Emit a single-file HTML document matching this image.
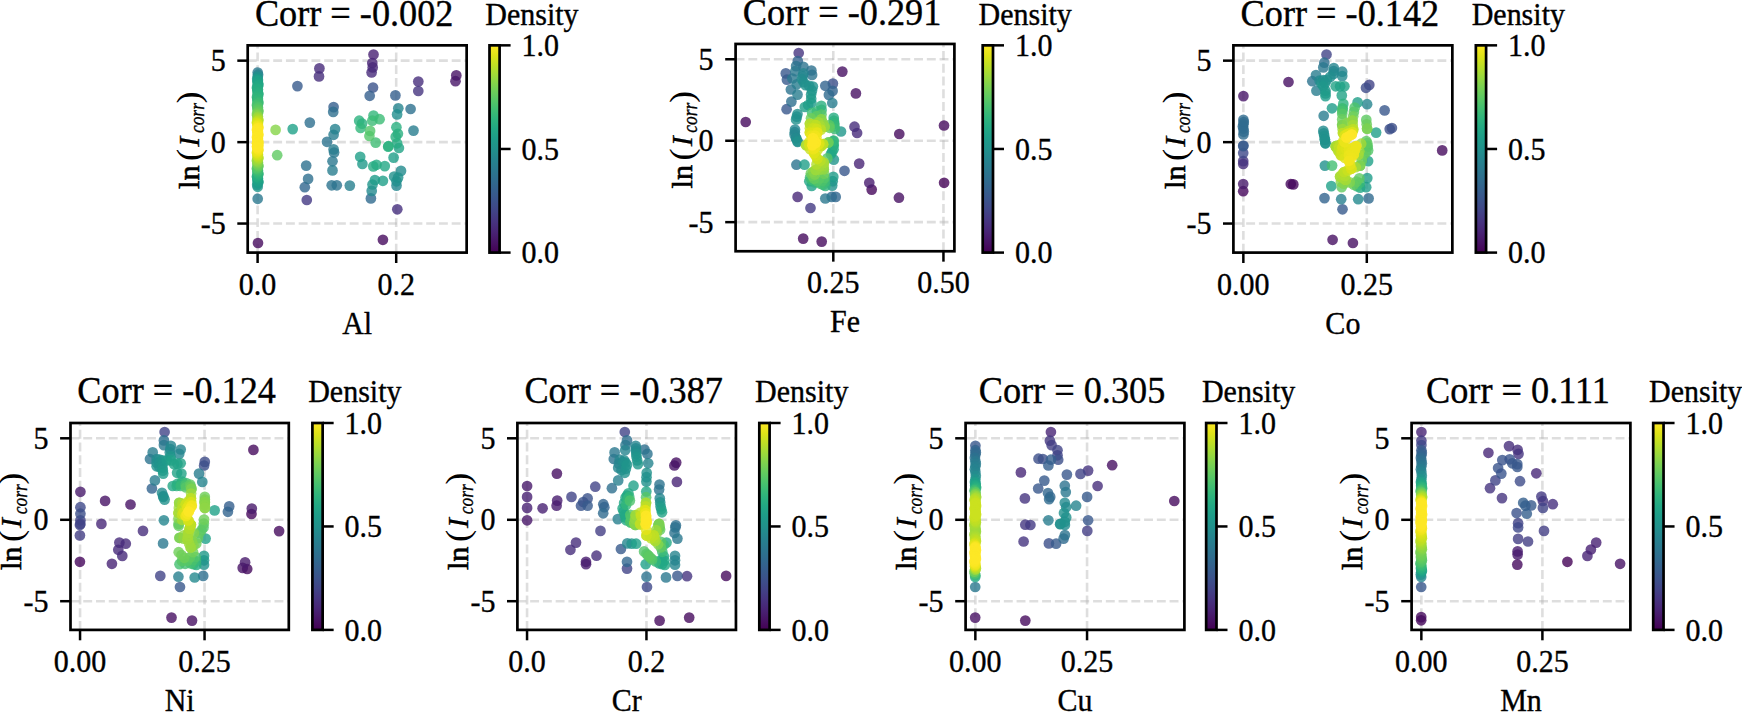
<!DOCTYPE html>
<html><head><meta charset="utf-8"><title>Correlation density scatter</title>
<style>html,body{margin:0;padding:0;background:#fff;overflow:hidden}svg{display:block}text{font-family:"Liberation Serif","Times New Roman",serif;fill:#000;stroke:#000;stroke-width:.35px}.t{font-size:36.25px}.l{font-size:30.00px}.i{font-style:italic}.pt{fill-opacity:.8}</style></head><body>
<svg width="1742" height="712" viewBox="0 0 1742 712">
<defs><linearGradient id="vir" x1="0" y1="1" x2="0" y2="0">
<stop offset="0.00" stop-color="#440154"/>
<stop offset="0.05" stop-color="#471365"/>
<stop offset="0.10" stop-color="#482475"/>
<stop offset="0.15" stop-color="#463480"/>
<stop offset="0.20" stop-color="#414487"/>
<stop offset="0.25" stop-color="#3b528b"/>
<stop offset="0.30" stop-color="#355f8d"/>
<stop offset="0.35" stop-color="#2f6c8e"/>
<stop offset="0.40" stop-color="#2a788e"/>
<stop offset="0.45" stop-color="#25848e"/>
<stop offset="0.50" stop-color="#21918c"/>
<stop offset="0.55" stop-color="#1e9c89"/>
<stop offset="0.60" stop-color="#22a884"/>
<stop offset="0.65" stop-color="#2fb47c"/>
<stop offset="0.70" stop-color="#44bf70"/>
<stop offset="0.75" stop-color="#5ec962"/>
<stop offset="0.80" stop-color="#7ad151"/>
<stop offset="0.85" stop-color="#9bd93c"/>
<stop offset="0.90" stop-color="#bddf26"/>
<stop offset="0.95" stop-color="#dfe318"/>
<stop offset="1.00" stop-color="#fde725"/>
</linearGradient></defs>
<rect width="1742" height="712" fill="#fff"/>
<g id="p0">
<clipPath id="c0"><rect x="247.70" y="45.35" width="218.95" height="207.25"/></clipPath>
<g stroke="#b0b0b0" stroke-width="2.60" stroke-opacity=".42" stroke-dasharray="8.9 3.85" fill="none" clip-path="url(#c0)">
<path d="M257.60 252.60V45.35"/>
<path d="M396.20 252.60V45.35"/>
<path d="M247.70 60.65H466.65"/>
<path d="M247.70 142.15H466.65"/>
<path d="M247.70 223.55H466.65"/>
</g>
<g class="pt" clip-path="url(#c0)">
<circle cx="258.0" cy="243.0" r="5.35" fill="#460b5e"/>
<circle cx="382.9" cy="239.8" r="5.35" fill="#460b5e"/>
<circle cx="456.3" cy="75.4" r="5.35" fill="#471365"/>
<circle cx="455.5" cy="81.2" r="5.35" fill="#481769"/>
<circle cx="373.5" cy="54.5" r="5.35" fill="#482173"/>
<circle cx="372.3" cy="63.0" r="5.35" fill="#482475"/>
<circle cx="372.7" cy="67.4" r="5.35" fill="#482878"/>
<circle cx="319.4" cy="68.4" r="5.35" fill="#472a7a"/>
<circle cx="371.6" cy="72.5" r="5.35" fill="#472a7a"/>
<circle cx="319.0" cy="76.4" r="5.35" fill="#472e7c"/>
<circle cx="418.3" cy="81.5" r="5.35" fill="#472e7c"/>
<circle cx="397.3" cy="209.3" r="5.35" fill="#46307e"/>
<circle cx="418.3" cy="91.0" r="5.35" fill="#463480"/>
<circle cx="306.8" cy="200.0" r="5.35" fill="#443a83"/>
<circle cx="373.0" cy="87.5" r="5.35" fill="#3b528b"/>
<circle cx="297.4" cy="86.1" r="5.35" fill="#375a8c"/>
<circle cx="333.6" cy="107.1" r="5.35" fill="#355f8d"/>
<circle cx="369.7" cy="95.8" r="5.35" fill="#355f8d"/>
<circle cx="395.4" cy="95.4" r="5.35" fill="#355f8d"/>
<circle cx="304.8" cy="187.2" r="5.35" fill="#31678e"/>
<circle cx="370.9" cy="198.4" r="5.35" fill="#306a8e"/>
<circle cx="309.8" cy="122.6" r="5.35" fill="#2e6f8e"/>
<circle cx="333.2" cy="111.9" r="5.35" fill="#2e6f8e"/>
<circle cx="308.1" cy="178.9" r="5.35" fill="#2e6f8e"/>
<circle cx="410.6" cy="109.0" r="5.35" fill="#2d718e"/>
<circle cx="306.2" cy="165.6" r="5.35" fill="#2d718e"/>
<circle cx="327.0" cy="141.8" r="5.35" fill="#2c738e"/>
<circle cx="331.7" cy="185.3" r="5.35" fill="#2c738e"/>
<circle cx="336.8" cy="185.3" r="5.35" fill="#2c738e"/>
<circle cx="257.7" cy="72.5" r="5.35" fill="#2a788e"/>
<circle cx="257.7" cy="198.8" r="5.35" fill="#2a788e"/>
<circle cx="334.1" cy="152.5" r="5.35" fill="#2a788e"/>
<circle cx="332.5" cy="161.3" r="5.35" fill="#2a788e"/>
<circle cx="333.6" cy="134.8" r="5.35" fill="#287d8e"/>
<circle cx="333.6" cy="149.4" r="5.35" fill="#287d8e"/>
<circle cx="413.5" cy="130.6" r="5.35" fill="#287d8e"/>
<circle cx="332.5" cy="170.4" r="5.35" fill="#287d8e"/>
<circle cx="349.8" cy="185.6" r="5.35" fill="#27808e"/>
<circle cx="335.1" cy="129.1" r="5.35" fill="#26828e"/>
<circle cx="398.3" cy="108.3" r="5.35" fill="#25848e"/>
<circle cx="258.1" cy="74.7" r="5.35" fill="#25848e"/>
<circle cx="396.5" cy="185.6" r="5.35" fill="#24868e"/>
<circle cx="371.7" cy="190.9" r="5.35" fill="#23898e"/>
<circle cx="401.0" cy="170.9" r="5.35" fill="#228b8d"/>
<circle cx="397.1" cy="114.4" r="5.35" fill="#218e8d"/>
<circle cx="396.5" cy="181.3" r="5.35" fill="#218e8d"/>
<circle cx="257.7" cy="76.9" r="5.35" fill="#21918c"/>
<circle cx="394.1" cy="176.5" r="5.35" fill="#21918c"/>
<circle cx="398.1" cy="177.6" r="5.35" fill="#21918c"/>
<circle cx="257.7" cy="186.8" r="5.35" fill="#1f958b"/>
<circle cx="372.5" cy="184.5" r="5.35" fill="#1f958b"/>
<circle cx="257.2" cy="79.0" r="5.35" fill="#1f988b"/>
<circle cx="257.2" cy="185.0" r="5.35" fill="#1f988b"/>
<circle cx="362.4" cy="164.0" r="5.35" fill="#1f9a8a"/>
<circle cx="257.7" cy="183.2" r="5.35" fill="#1e9c89"/>
<circle cx="374.9" cy="180.0" r="5.35" fill="#1e9c89"/>
<circle cx="257.9" cy="80.1" r="5.35" fill="#1e9d89"/>
<circle cx="258.4" cy="182.2" r="5.35" fill="#1f9e89"/>
<circle cx="393.6" cy="157.6" r="5.35" fill="#1f9f88"/>
<circle cx="360.2" cy="156.8" r="5.35" fill="#1f9f88"/>
<circle cx="382.9" cy="180.8" r="5.35" fill="#1f9f88"/>
<circle cx="258.1" cy="181.2" r="5.35" fill="#1fa088"/>
<circle cx="257.7" cy="81.2" r="5.35" fill="#1fa188"/>
<circle cx="292.7" cy="129.1" r="5.35" fill="#1fa188"/>
<circle cx="257.5" cy="180.2" r="5.35" fill="#1fa187"/>
<circle cx="257.5" cy="82.5" r="5.35" fill="#1fa287"/>
<circle cx="257.7" cy="179.2" r="5.35" fill="#20a386"/>
<circle cx="398.9" cy="148.0" r="5.35" fill="#20a386"/>
<circle cx="258.1" cy="83.8" r="5.35" fill="#20a486"/>
<circle cx="258.4" cy="85.1" r="5.35" fill="#21a685"/>
<circle cx="257.9" cy="178.2" r="5.35" fill="#21a685"/>
<circle cx="257.7" cy="86.3" r="5.35" fill="#22a884"/>
<circle cx="384.8" cy="166.1" r="5.35" fill="#22a884"/>
<circle cx="257.2" cy="177.2" r="5.35" fill="#23a983"/>
<circle cx="257.0" cy="87.4" r="5.35" fill="#23a983"/>
<circle cx="397.1" cy="143.3" r="5.35" fill="#25ab82"/>
<circle cx="373.3" cy="166.4" r="5.35" fill="#25ab82"/>
<circle cx="376.5" cy="164.8" r="5.35" fill="#25ab82"/>
<circle cx="257.2" cy="88.5" r="5.35" fill="#25ab82"/>
<circle cx="257.9" cy="89.6" r="5.35" fill="#25ac82"/>
<circle cx="257.0" cy="176.2" r="5.35" fill="#26ad81"/>
<circle cx="257.7" cy="90.7" r="5.35" fill="#26ad81"/>
<circle cx="257.5" cy="92.0" r="5.35" fill="#28ae80"/>
<circle cx="396.4" cy="127.2" r="5.35" fill="#29af7f"/>
<circle cx="397.9" cy="133.8" r="5.35" fill="#29af7f"/>
<circle cx="395.7" cy="136.7" r="5.35" fill="#29af7f"/>
<circle cx="388.4" cy="146.2" r="5.35" fill="#29af7f"/>
<circle cx="257.7" cy="175.2" r="5.35" fill="#29af7f"/>
<circle cx="258.1" cy="93.3" r="5.35" fill="#29af7f"/>
<circle cx="258.4" cy="94.6" r="5.35" fill="#2ab07f"/>
<circle cx="257.7" cy="95.8" r="5.35" fill="#2cb17e"/>
<circle cx="359.2" cy="120.7" r="5.35" fill="#2cb17e"/>
<circle cx="362.1" cy="123.6" r="5.35" fill="#2cb17e"/>
<circle cx="388.2" cy="146.7" r="5.35" fill="#2cb17e"/>
<circle cx="258.4" cy="174.2" r="5.35" fill="#2db27d"/>
<circle cx="257.0" cy="96.9" r="5.35" fill="#2eb37c"/>
<circle cx="257.2" cy="98.0" r="5.35" fill="#2fb47c"/>
<circle cx="258.1" cy="173.2" r="5.35" fill="#31b57b"/>
<circle cx="257.9" cy="99.1" r="5.35" fill="#31b57b"/>
<circle cx="257.7" cy="100.2" r="5.35" fill="#32b67a"/>
<circle cx="373.5" cy="115.6" r="5.35" fill="#32b67a"/>
<circle cx="360.6" cy="128.0" r="5.35" fill="#32b67a"/>
<circle cx="257.5" cy="101.1" r="5.35" fill="#35b779"/>
<circle cx="257.5" cy="172.2" r="5.35" fill="#35b779"/>
<circle cx="258.1" cy="102.0" r="5.35" fill="#38b977"/>
<circle cx="379.6" cy="119.2" r="5.35" fill="#3bbb75"/>
<circle cx="372.3" cy="120.7" r="5.35" fill="#3bbb75"/>
<circle cx="257.7" cy="171.2" r="5.35" fill="#3bbb75"/>
<circle cx="258.4" cy="103.0" r="5.35" fill="#3bbb75"/>
<circle cx="257.7" cy="103.9" r="5.35" fill="#3fbc73"/>
<circle cx="375.7" cy="142.6" r="5.35" fill="#3fbc73"/>
<circle cx="257.9" cy="170.2" r="5.35" fill="#40bd72"/>
<circle cx="257.0" cy="105.0" r="5.35" fill="#44bf70"/>
<circle cx="257.2" cy="106.1" r="5.35" fill="#48c16e"/>
<circle cx="257.2" cy="169.2" r="5.35" fill="#48c16e"/>
<circle cx="257.9" cy="107.2" r="5.35" fill="#4ec36b"/>
<circle cx="257.0" cy="168.2" r="5.35" fill="#50c46a"/>
<circle cx="257.7" cy="108.3" r="5.35" fill="#52c569"/>
<circle cx="370.1" cy="130.9" r="5.35" fill="#52c569"/>
<circle cx="369.4" cy="136.0" r="5.35" fill="#52c569"/>
<circle cx="257.7" cy="167.2" r="5.35" fill="#58c765"/>
<circle cx="257.5" cy="109.3" r="5.35" fill="#58c765"/>
<circle cx="277.2" cy="155.2" r="5.35" fill="#5ec962"/>
<circle cx="258.1" cy="110.4" r="5.35" fill="#5ec962"/>
<circle cx="258.4" cy="166.2" r="5.35" fill="#60ca60"/>
<circle cx="258.4" cy="111.5" r="5.35" fill="#63cb5f"/>
<circle cx="257.7" cy="112.6" r="5.35" fill="#69cd5b"/>
<circle cx="258.1" cy="165.2" r="5.35" fill="#69cd5b"/>
<circle cx="257.5" cy="164.2" r="5.35" fill="#70cf57"/>
<circle cx="257.0" cy="113.9" r="5.35" fill="#75d054"/>
<circle cx="257.7" cy="163.2" r="5.35" fill="#7ad151"/>
<circle cx="257.2" cy="115.2" r="5.35" fill="#81d34d"/>
<circle cx="257.9" cy="162.2" r="5.35" fill="#84d44b"/>
<circle cx="275.6" cy="129.9" r="5.35" fill="#86d549"/>
<circle cx="257.2" cy="161.2" r="5.35" fill="#8ed645"/>
<circle cx="257.9" cy="116.5" r="5.35" fill="#8ed645"/>
<circle cx="257.0" cy="160.2" r="5.35" fill="#98d83e"/>
<circle cx="257.7" cy="117.7" r="5.35" fill="#9bd93c"/>
<circle cx="257.7" cy="159.2" r="5.35" fill="#a2da37"/>
<circle cx="257.5" cy="118.7" r="5.35" fill="#a2da37"/>
<circle cx="258.1" cy="119.6" r="5.35" fill="#addc30"/>
<circle cx="258.4" cy="158.2" r="5.35" fill="#addc30"/>
<circle cx="258.4" cy="120.5" r="5.35" fill="#b5de2b"/>
<circle cx="258.1" cy="157.2" r="5.35" fill="#b5de2b"/>
<circle cx="257.7" cy="121.4" r="5.35" fill="#bddf26"/>
<circle cx="257.5" cy="156.2" r="5.35" fill="#c0df25"/>
<circle cx="257.0" cy="122.3" r="5.35" fill="#c8e020"/>
<circle cx="257.7" cy="155.2" r="5.35" fill="#cae11f"/>
<circle cx="257.2" cy="123.2" r="5.35" fill="#d2e21b"/>
<circle cx="257.9" cy="154.2" r="5.35" fill="#d2e21b"/>
<circle cx="257.9" cy="124.1" r="5.35" fill="#dae319"/>
<circle cx="257.2" cy="153.2" r="5.35" fill="#dae319"/>
<circle cx="257.0" cy="152.2" r="5.35" fill="#e5e419"/>
<circle cx="257.7" cy="125.0" r="5.35" fill="#e5e419"/>
<circle cx="257.7" cy="151.2" r="5.35" fill="#ece51b"/>
<circle cx="257.5" cy="126.0" r="5.35" fill="#ece51b"/>
<circle cx="258.4" cy="150.2" r="5.35" fill="#f1e51d"/>
<circle cx="258.1" cy="126.9" r="5.35" fill="#f1e51d"/>
<circle cx="258.1" cy="149.2" r="5.35" fill="#f6e620"/>
<circle cx="258.4" cy="127.8" r="5.35" fill="#f8e621"/>
<circle cx="257.5" cy="148.2" r="5.35" fill="#fbe723"/>
<circle cx="257.7" cy="128.7" r="5.35" fill="#fde725"/>
<circle cx="257.7" cy="132.3" r="5.35" fill="#fde725"/>
<circle cx="257.7" cy="136.0" r="5.35" fill="#fde725"/>
<circle cx="257.7" cy="139.6" r="5.35" fill="#fde725"/>
<circle cx="257.7" cy="143.3" r="5.35" fill="#fde725"/>
<circle cx="257.7" cy="146.2" r="5.35" fill="#fde725"/>
<circle cx="257.7" cy="143.2" r="5.35" fill="#fde725"/>
<circle cx="257.7" cy="147.2" r="5.35" fill="#fde725"/>
<circle cx="257.2" cy="130.5" r="5.35" fill="#fde725"/>
<circle cx="258.1" cy="134.2" r="5.35" fill="#fde725"/>
<circle cx="257.2" cy="137.8" r="5.35" fill="#fde725"/>
<circle cx="258.1" cy="141.4" r="5.35" fill="#fde725"/>
<circle cx="257.2" cy="143.2" r="5.35" fill="#fde725"/>
<circle cx="258.1" cy="144.8" r="5.35" fill="#fde725"/>
<circle cx="257.2" cy="146.7" r="5.35" fill="#fde725"/>
<circle cx="257.0" cy="129.6" r="5.35" fill="#fde725"/>
<circle cx="257.9" cy="131.4" r="5.35" fill="#fde725"/>
<circle cx="257.5" cy="133.3" r="5.35" fill="#fde725"/>
<circle cx="258.4" cy="135.1" r="5.35" fill="#fde725"/>
<circle cx="257.0" cy="136.9" r="5.35" fill="#fde725"/>
<circle cx="257.9" cy="138.7" r="5.35" fill="#fde725"/>
<circle cx="257.5" cy="140.5" r="5.35" fill="#fde725"/>
<circle cx="258.4" cy="142.3" r="5.35" fill="#fde725"/>
<circle cx="257.0" cy="143.2" r="5.35" fill="#fde725"/>
<circle cx="257.9" cy="143.3" r="5.35" fill="#fde725"/>
<circle cx="257.5" cy="144.0" r="5.35" fill="#fde725"/>
<circle cx="258.4" cy="145.5" r="5.35" fill="#fde725"/>
<circle cx="257.0" cy="146.5" r="5.35" fill="#fde725"/>
<circle cx="257.9" cy="147.0" r="5.35" fill="#fde725"/>
</g>
<g stroke="#000" stroke-width="2.50" fill="none">
<path d="M257.60 252.60v10.40"/>
<path d="M396.20 252.60v10.40"/>
<path d="M247.70 60.65h-10.40"/>
<path d="M247.70 142.15h-10.40"/>
<path d="M247.70 223.55h-10.40"/>
</g>
<rect x="247.70" y="45.35" width="218.95" height="207.25" fill="none" stroke="#000" stroke-width="2.70"/>
<text class="l" transform="translate(257.60 294.50) scale(1 1.022)" text-anchor="middle">0.0</text>
<text class="l" transform="translate(396.20 294.50) scale(1 1.022)" text-anchor="middle">0.2</text>
<text class="l" transform="translate(225.70 71.25) scale(1 1.022)" text-anchor="end">5</text>
<text class="l" transform="translate(225.70 152.75) scale(1 1.022)" text-anchor="end">0</text>
<text class="l" transform="translate(225.70 234.15) scale(1 1.022)" text-anchor="end">-5</text>
<text class="l" transform="translate(357.17 333.50) scale(1 1.022)" text-anchor="middle">Al</text>
<text class="t" transform="translate(354.17 25.75) scale(1 1.022)" text-anchor="middle">Corr = -0.002</text>
<g class="l" transform="translate(199.00 188.50) rotate(-90)"><text x="-0.4" y="0" font-size="30.4" style="stroke-width:.6px">ln</text><text transform="translate(27.6 0.8) scale(1.08 1)" font-size="33.5" style="stroke-width:0">(</text><text x="41.8" y="0" class="i">I</text><text transform="translate(55.4 5.2) scale(0.80 1)" class="i" font-size="21.8">corr</text><text transform="translate(85.0 0.8) scale(1.08 1)" font-size="33.5" style="stroke-width:0">)</text></g>
<rect x="489.50" y="45.35" width="10.10" height="207.25" fill="url(#vir)" stroke="#000" stroke-width="2.70"/>
<g stroke="#000" stroke-width="2.50" fill="none">
<path d="M499.60 45.35h11.00"/>
<path d="M499.60 148.97h11.00"/>
<path d="M499.60 252.60h11.00"/>
</g>
<text class="l" transform="translate(521.50 56.05) scale(1 1.022)">1.0</text>
<text class="l" transform="translate(521.50 159.67) scale(1 1.022)">0.5</text>
<text class="l" transform="translate(521.50 263.30) scale(1 1.022)">0.0</text>
<text class="l" transform="translate(485.30 24.75) scale(1 1.022)">Density</text>
</g>
<g id="p1">
<clipPath id="c1"><rect x="735.60" y="43.95" width="218.80" height="207.30"/></clipPath>
<g stroke="#b0b0b0" stroke-width="2.60" stroke-opacity=".42" stroke-dasharray="8.9 3.85" fill="none" clip-path="url(#c1)">
<path d="M833.30 251.25V43.95"/>
<path d="M943.45 251.25V43.95"/>
<path d="M735.60 59.25H954.40"/>
<path d="M735.60 140.75H954.40"/>
<path d="M735.60 222.15H954.40"/>
</g>
<g class="pt" clip-path="url(#c1)">
<circle cx="944.1" cy="182.8" r="5.35" fill="#450457"/>
<circle cx="871.7" cy="189.6" r="5.35" fill="#46085c"/>
<circle cx="745.7" cy="122.0" r="5.35" fill="#460b5e"/>
<circle cx="899.3" cy="134.0" r="5.35" fill="#460b5e"/>
<circle cx="944.0" cy="125.5" r="5.35" fill="#460b5e"/>
<circle cx="803.2" cy="238.6" r="5.35" fill="#460b5e"/>
<circle cx="821.7" cy="241.6" r="5.35" fill="#460b5e"/>
<circle cx="842.3" cy="71.6" r="5.35" fill="#471063"/>
<circle cx="855.9" cy="93.4" r="5.35" fill="#471063"/>
<circle cx="898.9" cy="197.7" r="5.35" fill="#471063"/>
<circle cx="869.3" cy="182.8" r="5.35" fill="#481d6f"/>
<circle cx="859.2" cy="163.6" r="5.35" fill="#482475"/>
<circle cx="797.6" cy="196.9" r="5.35" fill="#482878"/>
<circle cx="857.1" cy="133.0" r="5.35" fill="#472a7a"/>
<circle cx="854.5" cy="126.7" r="5.35" fill="#472e7c"/>
<circle cx="798.7" cy="53.0" r="5.35" fill="#463480"/>
<circle cx="810.5" cy="208.0" r="5.35" fill="#443a83"/>
<circle cx="832.9" cy="83.6" r="5.35" fill="#3c4f8a"/>
<circle cx="785.8" cy="73.4" r="5.35" fill="#38588c"/>
<circle cx="786.6" cy="109.2" r="5.35" fill="#38588c"/>
<circle cx="844.5" cy="170.8" r="5.35" fill="#38588c"/>
<circle cx="786.9" cy="79.7" r="5.35" fill="#375a8c"/>
<circle cx="797.8" cy="61.0" r="5.35" fill="#32648e"/>
<circle cx="825.3" cy="85.8" r="5.35" fill="#32648e"/>
<circle cx="832.6" cy="90.9" r="5.35" fill="#32648e"/>
<circle cx="835.7" cy="196.9" r="5.35" fill="#31678e"/>
<circle cx="828.9" cy="94.9" r="5.35" fill="#306a8e"/>
<circle cx="831.7" cy="196.9" r="5.35" fill="#2f6c8e"/>
<circle cx="791.4" cy="101.6" r="5.35" fill="#2e6f8e"/>
<circle cx="811.4" cy="70.5" r="5.35" fill="#2d718e"/>
<circle cx="796.1" cy="66.1" r="5.35" fill="#2c738e"/>
<circle cx="803.4" cy="66.8" r="5.35" fill="#2c738e"/>
<circle cx="812.1" cy="74.9" r="5.35" fill="#2c738e"/>
<circle cx="790.9" cy="89.5" r="5.35" fill="#2c738e"/>
<circle cx="796.4" cy="164.7" r="5.35" fill="#2c738e"/>
<circle cx="795.3" cy="71.2" r="5.35" fill="#2a788e"/>
<circle cx="792.4" cy="78.5" r="5.35" fill="#2a788e"/>
<circle cx="825.3" cy="198.5" r="5.35" fill="#2a788e"/>
<circle cx="796.8" cy="84.3" r="5.35" fill="#287d8e"/>
<circle cx="797.5" cy="94.6" r="5.35" fill="#287d8e"/>
<circle cx="832.3" cy="103.0" r="5.35" fill="#287d8e"/>
<circle cx="803.4" cy="73.4" r="5.35" fill="#25848e"/>
<circle cx="794.6" cy="134.7" r="5.35" fill="#25848e"/>
<circle cx="794.8" cy="132.2" r="5.35" fill="#25858e"/>
<circle cx="802.6" cy="76.3" r="5.35" fill="#24868e"/>
<circle cx="795.0" cy="129.6" r="5.35" fill="#24868e"/>
<circle cx="796.1" cy="138.4" r="5.35" fill="#23888e"/>
<circle cx="801.9" cy="79.2" r="5.35" fill="#23898e"/>
<circle cx="796.1" cy="138.0" r="5.35" fill="#238a8d"/>
<circle cx="797.6" cy="142.0" r="5.35" fill="#228b8d"/>
<circle cx="803.7" cy="82.2" r="5.35" fill="#228d8d"/>
<circle cx="805.6" cy="85.1" r="5.35" fill="#21918c"/>
<circle cx="812.9" cy="86.5" r="5.35" fill="#21918c"/>
<circle cx="797.5" cy="114.0" r="5.35" fill="#21918c"/>
<circle cx="796.1" cy="119.4" r="5.35" fill="#21918c"/>
<circle cx="797.5" cy="141.3" r="5.35" fill="#21918c"/>
<circle cx="832.2" cy="185.6" r="5.35" fill="#21918c"/>
<circle cx="809.2" cy="85.8" r="5.35" fill="#21918c"/>
<circle cx="796.8" cy="116.7" r="5.35" fill="#21918c"/>
<circle cx="812.0" cy="90.6" r="5.35" fill="#20938c"/>
<circle cx="833.8" cy="159.6" r="5.35" fill="#1f958b"/>
<circle cx="832.7" cy="181.2" r="5.35" fill="#1f968b"/>
<circle cx="811.1" cy="94.6" r="5.35" fill="#1f978b"/>
<circle cx="841.0" cy="131.5" r="5.35" fill="#1f978b"/>
<circle cx="811.2" cy="98.8" r="5.35" fill="#1f9a8a"/>
<circle cx="811.4" cy="103.0" r="5.35" fill="#1e9c89"/>
<circle cx="833.3" cy="176.9" r="5.35" fill="#1e9c89"/>
<circle cx="808.1" cy="105.0" r="5.35" fill="#1f9e89"/>
<circle cx="804.8" cy="107.0" r="5.35" fill="#1f9f88"/>
<circle cx="804.5" cy="164.7" r="5.35" fill="#1f9f88"/>
<circle cx="811.7" cy="186.0" r="5.35" fill="#1fa188"/>
<circle cx="833.6" cy="149.2" r="5.35" fill="#22a884"/>
<circle cx="830.9" cy="154.0" r="5.35" fill="#22a884"/>
<circle cx="809.3" cy="181.2" r="5.35" fill="#22a884"/>
<circle cx="832.2" cy="151.6" r="5.35" fill="#22a884"/>
<circle cx="833.4" cy="145.2" r="5.35" fill="#25ab82"/>
<circle cx="833.7" cy="117.9" r="5.35" fill="#26ad81"/>
<circle cx="833.3" cy="141.2" r="5.35" fill="#26ad81"/>
<circle cx="821.3" cy="105.8" r="5.35" fill="#29af7f"/>
<circle cx="833.7" cy="144.9" r="5.35" fill="#29af7f"/>
<circle cx="833.9" cy="120.9" r="5.35" fill="#2cb17e"/>
<circle cx="814.9" cy="182.4" r="5.35" fill="#2fb47c"/>
<circle cx="821.6" cy="109.9" r="5.35" fill="#2fb47c"/>
<circle cx="825.3" cy="186.0" r="5.35" fill="#2fb47c"/>
<circle cx="834.2" cy="123.4" r="5.35" fill="#2fb47c"/>
<circle cx="834.0" cy="123.8" r="5.35" fill="#32b67a"/>
<circle cx="833.7" cy="140.6" r="5.35" fill="#32b67a"/>
<circle cx="816.9" cy="111.4" r="5.35" fill="#35b779"/>
<circle cx="834.4" cy="126.3" r="5.35" fill="#37b878"/>
<circle cx="822.9" cy="184.8" r="5.35" fill="#38b977"/>
<circle cx="811.7" cy="180.0" r="5.35" fill="#3bbb75"/>
<circle cx="812.1" cy="112.8" r="5.35" fill="#3bbb75"/>
<circle cx="834.8" cy="128.9" r="5.35" fill="#3bbb75"/>
<circle cx="810.1" cy="177.2" r="5.35" fill="#3fbc73"/>
<circle cx="824.9" cy="182.0" r="5.35" fill="#3fbc73"/>
<circle cx="820.5" cy="183.6" r="5.35" fill="#44bf70"/>
<circle cx="822.5" cy="180.8" r="5.35" fill="#4cc26c"/>
<circle cx="824.5" cy="178.0" r="5.35" fill="#52c569"/>
<circle cx="817.3" cy="181.2" r="5.35" fill="#52c569"/>
<circle cx="821.5" cy="114.6" r="5.35" fill="#56c667"/>
<circle cx="827.3" cy="158.4" r="5.35" fill="#56c667"/>
<circle cx="819.3" cy="178.4" r="5.35" fill="#5ac864"/>
<circle cx="816.7" cy="116.1" r="5.35" fill="#5ec962"/>
<circle cx="829.3" cy="125.2" r="5.35" fill="#5ec962"/>
<circle cx="814.1" cy="178.8" r="5.35" fill="#63cb5f"/>
<circle cx="829.6" cy="127.8" r="5.35" fill="#63cb5f"/>
<circle cx="828.2" cy="142.7" r="5.35" fill="#63cb5f"/>
<circle cx="812.5" cy="176.0" r="5.35" fill="#69cd5b"/>
<circle cx="810.9" cy="173.2" r="5.35" fill="#6ece58"/>
<circle cx="811.0" cy="118.3" r="5.35" fill="#6ece58"/>
<circle cx="828.4" cy="142.4" r="5.35" fill="#6ece58"/>
<circle cx="824.1" cy="173.6" r="5.35" fill="#6ece58"/>
<circle cx="814.9" cy="174.4" r="5.35" fill="#7fd34e"/>
<circle cx="813.3" cy="171.6" r="5.35" fill="#84d44b"/>
<circle cx="821.3" cy="119.4" r="5.35" fill="#86d549"/>
<circle cx="821.3" cy="119.4" r="5.35" fill="#86d549"/>
<circle cx="823.7" cy="169.2" r="5.35" fill="#8ed645"/>
<circle cx="823.7" cy="169.2" r="5.35" fill="#8ed645"/>
<circle cx="822.9" cy="123.0" r="5.35" fill="#8ed645"/>
<circle cx="824.5" cy="126.7" r="5.35" fill="#95d840"/>
<circle cx="824.5" cy="126.7" r="5.35" fill="#95d840"/>
<circle cx="819.7" cy="169.6" r="5.35" fill="#95d840"/>
<circle cx="815.7" cy="170.0" r="5.35" fill="#9bd93c"/>
<circle cx="815.7" cy="170.0" r="5.35" fill="#9bd93c"/>
<circle cx="823.7" cy="166.0" r="5.35" fill="#9bd93c"/>
<circle cx="818.5" cy="122.3" r="5.35" fill="#a2da37"/>
<circle cx="819.7" cy="166.4" r="5.35" fill="#a2da37"/>
<circle cx="823.7" cy="162.8" r="5.35" fill="#a8db34"/>
<circle cx="823.7" cy="162.8" r="5.35" fill="#a8db34"/>
<circle cx="820.2" cy="126.0" r="5.35" fill="#a8db34"/>
<circle cx="809.9" cy="123.8" r="5.35" fill="#b0dd2f"/>
<circle cx="806.1" cy="145.2" r="5.35" fill="#b0dd2f"/>
<circle cx="809.9" cy="123.8" r="5.35" fill="#b0dd2f"/>
<circle cx="806.1" cy="145.2" r="5.35" fill="#b0dd2f"/>
<circle cx="816.5" cy="164.4" r="5.35" fill="#b2dd2d"/>
<circle cx="812.9" cy="124.5" r="5.35" fill="#b5de2b"/>
<circle cx="820.5" cy="160.8" r="5.35" fill="#bade28"/>
<circle cx="820.9" cy="129.6" r="5.35" fill="#bddf26"/>
<circle cx="815.8" cy="125.2" r="5.35" fill="#bddf26"/>
<circle cx="823.1" cy="144.2" r="5.35" fill="#bddf26"/>
<circle cx="821.3" cy="146.0" r="5.35" fill="#bddf26"/>
<circle cx="815.8" cy="125.2" r="5.35" fill="#bddf26"/>
<circle cx="823.1" cy="144.2" r="5.35" fill="#bddf26"/>
<circle cx="821.3" cy="146.0" r="5.35" fill="#bddf26"/>
<circle cx="809.9" cy="128.2" r="5.35" fill="#c2df23"/>
<circle cx="810.1" cy="149.2" r="5.35" fill="#c8e020"/>
<circle cx="813.6" cy="128.2" r="5.35" fill="#cae11f"/>
<circle cx="812.9" cy="128.9" r="5.35" fill="#cae11f"/>
<circle cx="817.3" cy="158.8" r="5.35" fill="#cae11f"/>
<circle cx="817.3" cy="158.8" r="5.35" fill="#cae11f"/>
<circle cx="817.7" cy="149.6" r="5.35" fill="#cde11d"/>
<circle cx="816.5" cy="128.9" r="5.35" fill="#d2e21b"/>
<circle cx="815.7" cy="156.0" r="5.35" fill="#d5e21a"/>
<circle cx="809.9" cy="132.5" r="5.35" fill="#d8e219"/>
<circle cx="809.9" cy="132.5" r="5.35" fill="#d8e219"/>
<circle cx="809.5" cy="141.8" r="5.35" fill="#d8e219"/>
<circle cx="810.9" cy="144.0" r="5.35" fill="#d8e219"/>
<circle cx="809.3" cy="145.2" r="5.35" fill="#d8e219"/>
<circle cx="814.1" cy="153.2" r="5.35" fill="#dfe318"/>
<circle cx="814.1" cy="153.2" r="5.35" fill="#dfe318"/>
<circle cx="813.6" cy="132.5" r="5.35" fill="#dfe318"/>
<circle cx="817.1" cy="142.2" r="5.35" fill="#dfe318"/>
<circle cx="819.4" cy="143.5" r="5.35" fill="#dfe318"/>
<circle cx="818.5" cy="144.4" r="5.35" fill="#dfe318"/>
<circle cx="817.8" cy="144.7" r="5.35" fill="#dfe318"/>
<circle cx="816.9" cy="145.6" r="5.35" fill="#dfe318"/>
<circle cx="817.2" cy="132.5" r="5.35" fill="#e5e419"/>
<circle cx="817.2" cy="132.5" r="5.35" fill="#e5e419"/>
<circle cx="811.4" cy="135.5" r="5.35" fill="#ece51b"/>
<circle cx="814.9" cy="148.0" r="5.35" fill="#efe51c"/>
<circle cx="813.3" cy="149.2" r="5.35" fill="#efe51c"/>
<circle cx="815.0" cy="135.5" r="5.35" fill="#f1e51d"/>
<circle cx="816.5" cy="137.6" r="5.35" fill="#f1e51d"/>
<circle cx="812.9" cy="138.4" r="5.35" fill="#fde725"/>
<circle cx="815.8" cy="142.8" r="5.35" fill="#fde725"/>
<circle cx="812.5" cy="145.2" r="5.35" fill="#fde725"/>
<circle cx="812.9" cy="138.4" r="5.35" fill="#fde725"/>
<circle cx="815.8" cy="142.8" r="5.35" fill="#fde725"/>
<circle cx="812.5" cy="145.2" r="5.35" fill="#fde725"/>
<circle cx="814.3" cy="140.6" r="5.35" fill="#fde725"/>
<circle cx="812.7" cy="141.8" r="5.35" fill="#fde725"/>
</g>
<g stroke="#000" stroke-width="2.50" fill="none">
<path d="M833.30 251.25v10.40"/>
<path d="M943.45 251.25v10.40"/>
<path d="M735.60 59.25h-10.40"/>
<path d="M735.60 140.75h-10.40"/>
<path d="M735.60 222.15h-10.40"/>
</g>
<rect x="735.60" y="43.95" width="218.80" height="207.30" fill="none" stroke="#000" stroke-width="2.70"/>
<text class="l" transform="translate(833.30 293.15) scale(1 1.022)" text-anchor="middle">0.25</text>
<text class="l" transform="translate(943.45 293.15) scale(1 1.022)" text-anchor="middle">0.50</text>
<text class="l" transform="translate(713.60 69.85) scale(1 1.022)" text-anchor="end">5</text>
<text class="l" transform="translate(713.60 151.35) scale(1 1.022)" text-anchor="end">0</text>
<text class="l" transform="translate(713.60 232.75) scale(1 1.022)" text-anchor="end">-5</text>
<text class="l" transform="translate(845.00 332.15) scale(1 1.022)" text-anchor="middle">Fe</text>
<text class="t" transform="translate(842.00 25.40) scale(1 1.022)" text-anchor="middle">Corr = -0.291</text>
<g class="l" transform="translate(691.80 188.10) rotate(-90)"><text x="-0.4" y="0" font-size="30.4" style="stroke-width:.6px">ln</text><text transform="translate(27.6 0.8) scale(1.08 1)" font-size="33.5" style="stroke-width:0">(</text><text x="41.8" y="0" class="i">I</text><text transform="translate(55.4 5.2) scale(0.80 1)" class="i" font-size="21.8">corr</text><text transform="translate(85.0 0.8) scale(1.08 1)" font-size="33.5" style="stroke-width:0">)</text></g>
<rect x="982.70" y="45.35" width="10.30" height="207.25" fill="url(#vir)" stroke="#000" stroke-width="2.70"/>
<g stroke="#000" stroke-width="2.50" fill="none">
<path d="M993.00 45.35h11.00"/>
<path d="M993.00 148.97h11.00"/>
<path d="M993.00 252.60h11.00"/>
</g>
<text class="l" transform="translate(1014.90 56.05) scale(1 1.022)">1.0</text>
<text class="l" transform="translate(1014.90 159.67) scale(1 1.022)">0.5</text>
<text class="l" transform="translate(1014.90 263.30) scale(1 1.022)">0.0</text>
<text class="l" transform="translate(978.50 24.75) scale(1 1.022)">Density</text>
</g>
<g id="p2">
<clipPath id="c2"><rect x="1233.40" y="45.35" width="218.95" height="207.25"/></clipPath>
<g stroke="#b0b0b0" stroke-width="2.60" stroke-opacity=".42" stroke-dasharray="8.9 3.85" fill="none" clip-path="url(#c2)">
<path d="M1243.35 252.60V45.35"/>
<path d="M1366.80 252.60V45.35"/>
<path d="M1233.40 60.65H1452.35"/>
<path d="M1233.40 142.15H1452.35"/>
<path d="M1233.40 223.55H1452.35"/>
</g>
<g class="pt" clip-path="url(#c2)">
<circle cx="1243.2" cy="191.2" r="5.35" fill="#46085c"/>
<circle cx="1290.8" cy="184.0" r="5.35" fill="#46085c"/>
<circle cx="1293.3" cy="184.4" r="5.35" fill="#46085c"/>
<circle cx="1442.2" cy="150.4" r="5.35" fill="#460b5e"/>
<circle cx="1288.5" cy="82.0" r="5.35" fill="#471063"/>
<circle cx="1332.6" cy="239.8" r="5.35" fill="#471063"/>
<circle cx="1352.9" cy="243.0" r="5.35" fill="#471063"/>
<circle cx="1243.4" cy="96.1" r="5.35" fill="#481769"/>
<circle cx="1243.2" cy="184.0" r="5.35" fill="#481a6c"/>
<circle cx="1243.2" cy="164.0" r="5.35" fill="#472e7c"/>
<circle cx="1243.2" cy="161.1" r="5.35" fill="#463480"/>
<circle cx="1326.5" cy="54.5" r="5.35" fill="#414487"/>
<circle cx="1369.3" cy="84.9" r="5.35" fill="#414487"/>
<circle cx="1243.2" cy="153.1" r="5.35" fill="#3e4989"/>
<circle cx="1366.0" cy="87.8" r="5.35" fill="#3e4c8a"/>
<circle cx="1391.9" cy="128.0" r="5.35" fill="#3c4f8a"/>
<circle cx="1389.7" cy="129.1" r="5.35" fill="#3c4f8a"/>
<circle cx="1384.6" cy="110.4" r="5.35" fill="#38588c"/>
<circle cx="1243.2" cy="146.1" r="5.35" fill="#38588c"/>
<circle cx="1243.4" cy="145.5" r="5.35" fill="#375a8c"/>
<circle cx="1342.5" cy="209.3" r="5.35" fill="#375a8c"/>
<circle cx="1324.5" cy="198.1" r="5.35" fill="#32648e"/>
<circle cx="1368.6" cy="198.4" r="5.35" fill="#306a8e"/>
<circle cx="1243.4" cy="119.9" r="5.35" fill="#2f6c8e"/>
<circle cx="1243.4" cy="124.3" r="5.35" fill="#2f6c8e"/>
<circle cx="1243.4" cy="128.7" r="5.35" fill="#2f6c8e"/>
<circle cx="1243.4" cy="134.5" r="5.35" fill="#2f6c8e"/>
<circle cx="1243.8" cy="122.1" r="5.35" fill="#2f6c8e"/>
<circle cx="1242.9" cy="126.5" r="5.35" fill="#2f6c8e"/>
<circle cx="1243.8" cy="131.6" r="5.35" fill="#2f6c8e"/>
<circle cx="1324.3" cy="62.7" r="5.35" fill="#2e6f8e"/>
<circle cx="1312.3" cy="81.2" r="5.35" fill="#2c738e"/>
<circle cx="1323.3" cy="67.4" r="5.35" fill="#2a788e"/>
<circle cx="1316.0" cy="75.1" r="5.35" fill="#287d8e"/>
<circle cx="1316.4" cy="90.7" r="5.35" fill="#287d8e"/>
<circle cx="1323.7" cy="115.8" r="5.35" fill="#287d8e"/>
<circle cx="1341.2" cy="199.2" r="5.35" fill="#27808e"/>
<circle cx="1333.8" cy="68.1" r="5.35" fill="#25848e"/>
<circle cx="1342.2" cy="71.7" r="5.35" fill="#25848e"/>
<circle cx="1367.1" cy="104.2" r="5.35" fill="#25848e"/>
<circle cx="1333.6" cy="71.0" r="5.35" fill="#24868e"/>
<circle cx="1342.2" cy="76.1" r="5.35" fill="#23898e"/>
<circle cx="1333.5" cy="73.9" r="5.35" fill="#23898e"/>
<circle cx="1319.6" cy="80.5" r="5.35" fill="#23898e"/>
<circle cx="1358.2" cy="199.2" r="5.35" fill="#23898e"/>
<circle cx="1323.3" cy="130.9" r="5.35" fill="#228b8d"/>
<circle cx="1330.2" cy="76.9" r="5.35" fill="#228d8d"/>
<circle cx="1323.3" cy="80.1" r="5.35" fill="#228d8d"/>
<circle cx="1323.8" cy="133.4" r="5.35" fill="#218e8d"/>
<circle cx="1326.9" cy="79.8" r="5.35" fill="#21918c"/>
<circle cx="1324.3" cy="136.0" r="5.35" fill="#21918c"/>
<circle cx="1325.5" cy="143.3" r="5.35" fill="#21918c"/>
<circle cx="1325.3" cy="143.2" r="5.35" fill="#21918c"/>
<circle cx="1324.9" cy="165.6" r="5.35" fill="#21918c"/>
<circle cx="1321.4" cy="83.4" r="5.35" fill="#21918c"/>
<circle cx="1324.9" cy="139.6" r="5.35" fill="#21918c"/>
<circle cx="1324.8" cy="139.6" r="5.35" fill="#21918c"/>
<circle cx="1325.1" cy="83.1" r="5.35" fill="#20938c"/>
<circle cx="1323.3" cy="86.3" r="5.35" fill="#1f978b"/>
<circle cx="1325.5" cy="90.7" r="5.35" fill="#1f978b"/>
<circle cx="1325.5" cy="93.4" r="5.35" fill="#1f9a8a"/>
<circle cx="1325.5" cy="96.1" r="5.35" fill="#1e9c89"/>
<circle cx="1332.0" cy="108.3" r="5.35" fill="#1e9c89"/>
<circle cx="1367.3" cy="178.1" r="5.35" fill="#1e9c89"/>
<circle cx="1366.2" cy="187.2" r="5.35" fill="#1e9c89"/>
<circle cx="1357.6" cy="102.4" r="5.35" fill="#1f9f88"/>
<circle cx="1376.1" cy="132.6" r="5.35" fill="#1f9f88"/>
<circle cx="1368.1" cy="161.1" r="5.35" fill="#1fa188"/>
<circle cx="1331.3" cy="186.1" r="5.35" fill="#1fa188"/>
<circle cx="1335.7" cy="86.3" r="5.35" fill="#20a386"/>
<circle cx="1344.4" cy="86.3" r="5.35" fill="#20a386"/>
<circle cx="1341.8" cy="95.4" r="5.35" fill="#20a386"/>
<circle cx="1340.1" cy="86.3" r="5.35" fill="#20a386"/>
<circle cx="1360.1" cy="187.6" r="5.35" fill="#22a884"/>
<circle cx="1343.3" cy="103.9" r="5.35" fill="#2cb17e"/>
<circle cx="1359.7" cy="183.0" r="5.35" fill="#38b977"/>
<circle cx="1356.9" cy="186.2" r="5.35" fill="#3bbb75"/>
<circle cx="1342.2" cy="108.3" r="5.35" fill="#3bbb75"/>
<circle cx="1342.8" cy="108.8" r="5.35" fill="#3fbc73"/>
<circle cx="1332.1" cy="165.6" r="5.35" fill="#44bf70"/>
<circle cx="1342.2" cy="111.0" r="5.35" fill="#48c16e"/>
<circle cx="1354.7" cy="107.5" r="5.35" fill="#4ec36b"/>
<circle cx="1368.1" cy="150.4" r="5.35" fill="#52c569"/>
<circle cx="1353.9" cy="111.9" r="5.35" fill="#58c765"/>
<circle cx="1342.2" cy="113.8" r="5.35" fill="#58c765"/>
<circle cx="1367.2" cy="145.8" r="5.35" fill="#58c765"/>
<circle cx="1367.7" cy="146.8" r="5.35" fill="#58c765"/>
<circle cx="1365.7" cy="152.8" r="5.35" fill="#5ac864"/>
<circle cx="1366.3" cy="119.9" r="5.35" fill="#5ec962"/>
<circle cx="1366.3" cy="141.1" r="5.35" fill="#5ec962"/>
<circle cx="1367.3" cy="143.2" r="5.35" fill="#5ec962"/>
<circle cx="1359.3" cy="178.4" r="5.35" fill="#5ec962"/>
<circle cx="1356.5" cy="181.6" r="5.35" fill="#60ca60"/>
<circle cx="1363.3" cy="155.2" r="5.35" fill="#63cb5f"/>
<circle cx="1353.7" cy="184.8" r="5.35" fill="#63cb5f"/>
<circle cx="1341.7" cy="187.2" r="5.35" fill="#63cb5f"/>
<circle cx="1342.2" cy="119.4" r="5.35" fill="#69cd5b"/>
<circle cx="1366.7" cy="124.3" r="5.35" fill="#6ccd5a"/>
<circle cx="1361.7" cy="160.4" r="5.35" fill="#6ece58"/>
<circle cx="1353.2" cy="116.3" r="5.35" fill="#70cf57"/>
<circle cx="1342.2" cy="125.0" r="5.35" fill="#7ad151"/>
<circle cx="1367.1" cy="128.7" r="5.35" fill="#7ad151"/>
<circle cx="1360.1" cy="165.6" r="5.35" fill="#7ad151"/>
<circle cx="1342.2" cy="125.0" r="5.35" fill="#7ad151"/>
<circle cx="1367.1" cy="128.7" r="5.35" fill="#7ad151"/>
<circle cx="1360.1" cy="165.6" r="5.35" fill="#7ad151"/>
<circle cx="1349.7" cy="182.4" r="5.35" fill="#81d34d"/>
<circle cx="1343.7" cy="183.6" r="5.35" fill="#81d34d"/>
<circle cx="1347.4" cy="122.9" r="5.35" fill="#84d44b"/>
<circle cx="1340.9" cy="181.9" r="5.35" fill="#84d44b"/>
<circle cx="1352.5" cy="120.7" r="5.35" fill="#8ed645"/>
<circle cx="1352.5" cy="120.7" r="5.35" fill="#8ed645"/>
<circle cx="1335.7" cy="146.2" r="5.35" fill="#9bd93c"/>
<circle cx="1335.7" cy="146.2" r="5.35" fill="#9bd93c"/>
<circle cx="1342.6" cy="129.1" r="5.35" fill="#9bd93c"/>
<circle cx="1359.3" cy="151.2" r="5.35" fill="#9dd93b"/>
<circle cx="1345.7" cy="180.0" r="5.35" fill="#a2da37"/>
<circle cx="1345.7" cy="180.0" r="5.35" fill="#a2da37"/>
<circle cx="1361.2" cy="143.7" r="5.35" fill="#a2da37"/>
<circle cx="1352.8" cy="125.0" r="5.35" fill="#a5db36"/>
<circle cx="1358.5" cy="154.8" r="5.35" fill="#a5db36"/>
<circle cx="1342.9" cy="178.3" r="5.35" fill="#a5db36"/>
<circle cx="1336.1" cy="147.2" r="5.35" fill="#a8db34"/>
<circle cx="1340.1" cy="176.5" r="5.35" fill="#a8db34"/>
<circle cx="1336.1" cy="147.2" r="5.35" fill="#a8db34"/>
<circle cx="1340.1" cy="176.5" r="5.35" fill="#a8db34"/>
<circle cx="1355.7" cy="167.2" r="5.35" fill="#a8db34"/>
<circle cx="1337.9" cy="145.5" r="5.35" fill="#addc30"/>
<circle cx="1344.9" cy="176.0" r="5.35" fill="#b0dd2f"/>
<circle cx="1338.1" cy="146.0" r="5.35" fill="#b2dd2d"/>
<circle cx="1338.3" cy="150.7" r="5.35" fill="#b2dd2d"/>
<circle cx="1342.1" cy="174.3" r="5.35" fill="#b2dd2d"/>
<circle cx="1339.1" cy="146.7" r="5.35" fill="#bade28"/>
<circle cx="1338.5" cy="151.2" r="5.35" fill="#bade28"/>
<circle cx="1353.2" cy="129.4" r="5.35" fill="#bddf26"/>
<circle cx="1343.0" cy="133.1" r="5.35" fill="#bddf26"/>
<circle cx="1340.1" cy="144.8" r="5.35" fill="#bddf26"/>
<circle cx="1344.1" cy="172.0" r="5.35" fill="#bddf26"/>
<circle cx="1353.2" cy="129.4" r="5.35" fill="#bddf26"/>
<circle cx="1343.0" cy="133.1" r="5.35" fill="#bddf26"/>
<circle cx="1340.1" cy="144.8" r="5.35" fill="#bddf26"/>
<circle cx="1344.1" cy="172.0" r="5.35" fill="#bddf26"/>
<circle cx="1348.1" cy="131.2" r="5.35" fill="#bddf26"/>
<circle cx="1339.3" cy="147.2" r="5.35" fill="#c0df25"/>
<circle cx="1340.5" cy="150.0" r="5.35" fill="#c2df23"/>
<circle cx="1347.7" cy="170.4" r="5.35" fill="#cae11f"/>
<circle cx="1340.9" cy="155.2" r="5.35" fill="#cae11f"/>
<circle cx="1340.9" cy="155.2" r="5.35" fill="#cae11f"/>
<circle cx="1344.5" cy="147.2" r="5.35" fill="#d2e21b"/>
<circle cx="1341.7" cy="151.2" r="5.35" fill="#d2e21b"/>
<circle cx="1342.5" cy="147.2" r="5.35" fill="#d8e219"/>
<circle cx="1351.3" cy="168.8" r="5.35" fill="#d8e219"/>
<circle cx="1342.5" cy="147.2" r="5.35" fill="#d8e219"/>
<circle cx="1351.3" cy="168.8" r="5.35" fill="#d8e219"/>
<circle cx="1344.9" cy="152.4" r="5.35" fill="#d8e219"/>
<circle cx="1355.3" cy="147.2" r="5.35" fill="#dfe318"/>
<circle cx="1355.3" cy="147.2" r="5.35" fill="#dfe318"/>
<circle cx="1352.5" cy="132.0" r="5.35" fill="#dfe318"/>
<circle cx="1349.9" cy="133.4" r="5.35" fill="#dfe318"/>
<circle cx="1347.4" cy="133.8" r="5.35" fill="#dfe318"/>
<circle cx="1344.8" cy="135.3" r="5.35" fill="#dfe318"/>
<circle cx="1343.3" cy="141.1" r="5.35" fill="#dfe318"/>
<circle cx="1345.7" cy="148.4" r="5.35" fill="#dfe318"/>
<circle cx="1344.9" cy="158.0" r="5.35" fill="#dfe318"/>
<circle cx="1352.1" cy="148.4" r="5.35" fill="#e2e418"/>
<circle cx="1348.9" cy="149.6" r="5.35" fill="#e5e419"/>
<circle cx="1348.9" cy="149.6" r="5.35" fill="#e5e419"/>
<circle cx="1354.5" cy="150.8" r="5.35" fill="#e5e419"/>
<circle cx="1350.1" cy="164.8" r="5.35" fill="#e5e419"/>
<circle cx="1352.5" cy="147.9" r="5.35" fill="#eae51a"/>
<circle cx="1351.3" cy="152.0" r="5.35" fill="#eae51a"/>
<circle cx="1356.1" cy="146.2" r="5.35" fill="#ece51b"/>
<circle cx="1353.7" cy="154.4" r="5.35" fill="#ece51b"/>
<circle cx="1356.1" cy="146.2" r="5.35" fill="#ece51b"/>
<circle cx="1353.7" cy="154.4" r="5.35" fill="#ece51b"/>
<circle cx="1344.6" cy="142.3" r="5.35" fill="#ece51b"/>
<circle cx="1354.9" cy="150.3" r="5.35" fill="#ece51b"/>
<circle cx="1348.9" cy="155.2" r="5.35" fill="#ece51b"/>
<circle cx="1351.3" cy="157.6" r="5.35" fill="#efe51c"/>
<circle cx="1348.9" cy="160.8" r="5.35" fill="#f1e51d"/>
<circle cx="1348.9" cy="160.8" r="5.35" fill="#f1e51d"/>
<circle cx="1351.7" cy="134.5" r="5.35" fill="#fde725"/>
<circle cx="1346.6" cy="137.5" r="5.35" fill="#fde725"/>
<circle cx="1351.7" cy="134.5" r="5.35" fill="#fde725"/>
<circle cx="1346.6" cy="137.5" r="5.35" fill="#fde725"/>
<circle cx="1349.2" cy="136.0" r="5.35" fill="#fde725"/>
</g>
<g stroke="#000" stroke-width="2.50" fill="none">
<path d="M1243.35 252.60v10.40"/>
<path d="M1366.80 252.60v10.40"/>
<path d="M1233.40 60.65h-10.40"/>
<path d="M1233.40 142.15h-10.40"/>
<path d="M1233.40 223.55h-10.40"/>
</g>
<rect x="1233.40" y="45.35" width="218.95" height="207.25" fill="none" stroke="#000" stroke-width="2.70"/>
<text class="l" transform="translate(1243.35 294.50) scale(1 1.022)" text-anchor="middle">0.00</text>
<text class="l" transform="translate(1366.80 294.50) scale(1 1.022)" text-anchor="middle">0.25</text>
<text class="l" transform="translate(1211.40 71.25) scale(1 1.022)" text-anchor="end">5</text>
<text class="l" transform="translate(1211.40 152.75) scale(1 1.022)" text-anchor="end">0</text>
<text class="l" transform="translate(1211.40 234.15) scale(1 1.022)" text-anchor="end">-5</text>
<text class="l" transform="translate(1342.88 333.50) scale(1 1.022)" text-anchor="middle">Co</text>
<text class="t" transform="translate(1339.88 25.75) scale(1 1.022)" text-anchor="middle">Corr = -0.142</text>
<g class="l" transform="translate(1184.70 188.50) rotate(-90)"><text x="-0.4" y="0" font-size="30.4" style="stroke-width:.6px">ln</text><text transform="translate(27.6 0.8) scale(1.08 1)" font-size="33.5" style="stroke-width:0">(</text><text x="41.8" y="0" class="i">I</text><text transform="translate(55.4 5.2) scale(0.80 1)" class="i" font-size="21.8">corr</text><text transform="translate(85.0 0.8) scale(1.08 1)" font-size="33.5" style="stroke-width:0">)</text></g>
<rect x="1475.85" y="45.35" width="10.25" height="207.25" fill="url(#vir)" stroke="#000" stroke-width="2.70"/>
<g stroke="#000" stroke-width="2.50" fill="none">
<path d="M1486.10 45.35h11.00"/>
<path d="M1486.10 148.97h11.00"/>
<path d="M1486.10 252.60h11.00"/>
</g>
<text class="l" transform="translate(1508.00 56.05) scale(1 1.022)">1.0</text>
<text class="l" transform="translate(1508.00 159.67) scale(1 1.022)">0.5</text>
<text class="l" transform="translate(1508.00 263.30) scale(1 1.022)">0.0</text>
<text class="l" transform="translate(1471.65 24.75) scale(1 1.022)">Density</text>
</g>
<g id="p3">
<clipPath id="c3"><rect x="70.50" y="423.00" width="218.30" height="206.90"/></clipPath>
<g stroke="#b0b0b0" stroke-width="2.60" stroke-opacity=".42" stroke-dasharray="8.9 3.85" fill="none" clip-path="url(#c3)">
<path d="M80.05 629.90V423.00"/>
<path d="M204.55 629.90V423.00"/>
<path d="M70.50 438.30H288.80"/>
<path d="M70.50 519.80H288.80"/>
<path d="M70.50 601.20H288.80"/>
</g>
<g class="pt" clip-path="url(#c3)">
<circle cx="251.5" cy="514.0" r="5.35" fill="#46085c"/>
<circle cx="79.9" cy="561.8" r="5.35" fill="#46085c"/>
<circle cx="253.4" cy="449.9" r="5.35" fill="#460b5e"/>
<circle cx="279.1" cy="531.1" r="5.35" fill="#460b5e"/>
<circle cx="247.2" cy="569.0" r="5.35" fill="#460b5e"/>
<circle cx="171.5" cy="617.6" r="5.35" fill="#471063"/>
<circle cx="192.0" cy="620.6" r="5.35" fill="#471063"/>
<circle cx="105.1" cy="500.9" r="5.35" fill="#471365"/>
<circle cx="130.5" cy="504.5" r="5.35" fill="#471365"/>
<circle cx="242.7" cy="567.9" r="5.35" fill="#471365"/>
<circle cx="80.4" cy="491.8" r="5.35" fill="#481a6c"/>
<circle cx="251.8" cy="508.6" r="5.35" fill="#481a6c"/>
<circle cx="245.1" cy="562.3" r="5.35" fill="#481a6c"/>
<circle cx="111.9" cy="563.8" r="5.35" fill="#482475"/>
<circle cx="101.4" cy="523.9" r="5.35" fill="#482878"/>
<circle cx="119.4" cy="542.6" r="5.35" fill="#472a7a"/>
<circle cx="125.8" cy="543.7" r="5.35" fill="#472a7a"/>
<circle cx="118.3" cy="549.8" r="5.35" fill="#472a7a"/>
<circle cx="122.3" cy="555.9" r="5.35" fill="#472a7a"/>
<circle cx="143.0" cy="530.9" r="5.35" fill="#472e7c"/>
<circle cx="79.9" cy="535.4" r="5.35" fill="#433e85"/>
<circle cx="164.6" cy="432.0" r="5.35" fill="#414487"/>
<circle cx="80.4" cy="520.3" r="5.35" fill="#414487"/>
<circle cx="80.4" cy="523.9" r="5.35" fill="#414487"/>
<circle cx="79.9" cy="525.0" r="5.35" fill="#414487"/>
<circle cx="160.3" cy="575.9" r="5.35" fill="#414487"/>
<circle cx="80.4" cy="507.2" r="5.35" fill="#3e4989"/>
<circle cx="204.8" cy="461.9" r="5.35" fill="#3e4c8a"/>
<circle cx="204.1" cy="465.5" r="5.35" fill="#3c4f8a"/>
<circle cx="80.4" cy="513.7" r="5.35" fill="#3c4f8a"/>
<circle cx="180.0" cy="587.0" r="5.35" fill="#38588c"/>
<circle cx="229.2" cy="506.4" r="5.35" fill="#355f8d"/>
<circle cx="151.9" cy="488.5" r="5.35" fill="#32648e"/>
<circle cx="227.9" cy="511.8" r="5.35" fill="#32648e"/>
<circle cx="163.9" cy="440.4" r="5.35" fill="#2e6f8e"/>
<circle cx="203.2" cy="575.9" r="5.35" fill="#2e6f8e"/>
<circle cx="150.0" cy="459.0" r="5.35" fill="#2c738e"/>
<circle cx="163.9" cy="445.1" r="5.35" fill="#2a788e"/>
<circle cx="163.1" cy="543.4" r="5.35" fill="#2a788e"/>
<circle cx="152.7" cy="452.4" r="5.35" fill="#287d8e"/>
<circle cx="199.0" cy="473.6" r="5.35" fill="#287d8e"/>
<circle cx="154.9" cy="480.4" r="5.35" fill="#287d8e"/>
<circle cx="178.4" cy="576.7" r="5.35" fill="#27808e"/>
<circle cx="170.9" cy="445.8" r="5.35" fill="#25848e"/>
<circle cx="180.7" cy="449.5" r="5.35" fill="#25848e"/>
<circle cx="202.3" cy="481.9" r="5.35" fill="#25848e"/>
<circle cx="179.2" cy="453.9" r="5.35" fill="#24868e"/>
<circle cx="163.9" cy="520.3" r="5.35" fill="#24868e"/>
<circle cx="170.3" cy="449.1" r="5.35" fill="#23888e"/>
<circle cx="156.6" cy="459.0" r="5.35" fill="#23898e"/>
<circle cx="194.7" cy="577.5" r="5.35" fill="#23898e"/>
<circle cx="169.8" cy="452.4" r="5.35" fill="#228b8d"/>
<circle cx="162.0" cy="492.8" r="5.35" fill="#228b8d"/>
<circle cx="163.2" cy="496.9" r="5.35" fill="#228b8d"/>
<circle cx="156.6" cy="462.6" r="5.35" fill="#228d8d"/>
<circle cx="163.3" cy="496.2" r="5.35" fill="#218e8d"/>
<circle cx="159.5" cy="459.7" r="5.35" fill="#218f8d"/>
<circle cx="156.6" cy="466.3" r="5.35" fill="#21918c"/>
<circle cx="164.6" cy="499.6" r="5.35" fill="#21918c"/>
<circle cx="204.0" cy="564.7" r="5.35" fill="#21918c"/>
<circle cx="159.5" cy="463.3" r="5.35" fill="#20928c"/>
<circle cx="159.5" cy="467.0" r="5.35" fill="#20938c"/>
<circle cx="162.5" cy="460.4" r="5.35" fill="#1f958b"/>
<circle cx="204.0" cy="560.3" r="5.35" fill="#1f958b"/>
<circle cx="170.5" cy="456.4" r="5.35" fill="#1f968b"/>
<circle cx="162.5" cy="464.1" r="5.35" fill="#1f968b"/>
<circle cx="162.5" cy="467.7" r="5.35" fill="#1f978b"/>
<circle cx="204.0" cy="555.9" r="5.35" fill="#1f9a8a"/>
<circle cx="162.8" cy="470.6" r="5.35" fill="#1f9a8a"/>
<circle cx="166.8" cy="460.4" r="5.35" fill="#1e9b8a"/>
<circle cx="163.2" cy="473.6" r="5.35" fill="#1e9c89"/>
<circle cx="171.2" cy="460.4" r="5.35" fill="#1fa188"/>
<circle cx="214.6" cy="510.4" r="5.35" fill="#1fa188"/>
<circle cx="205.6" cy="538.6" r="5.35" fill="#1fa188"/>
<circle cx="174.1" cy="464.1" r="5.35" fill="#20a386"/>
<circle cx="180.7" cy="463.3" r="5.35" fill="#20a386"/>
<circle cx="177.1" cy="472.8" r="5.35" fill="#20a386"/>
<circle cx="181.4" cy="473.6" r="5.35" fill="#20a386"/>
<circle cx="177.4" cy="463.7" r="5.35" fill="#20a386"/>
<circle cx="172.7" cy="486.0" r="5.35" fill="#22a884"/>
<circle cx="177.4" cy="483.8" r="5.35" fill="#25ab82"/>
<circle cx="182.2" cy="481.6" r="5.35" fill="#26ad81"/>
<circle cx="196.3" cy="565.0" r="5.35" fill="#26ad81"/>
<circle cx="176.7" cy="486.0" r="5.35" fill="#2ab07f"/>
<circle cx="181.4" cy="483.8" r="5.35" fill="#2eb37c"/>
<circle cx="193.5" cy="564.2" r="5.35" fill="#32b67a"/>
<circle cx="195.9" cy="561.0" r="5.35" fill="#37b878"/>
<circle cx="180.7" cy="486.0" r="5.35" fill="#37b878"/>
<circle cx="186.2" cy="483.1" r="5.35" fill="#3dbc74"/>
<circle cx="179.5" cy="564.2" r="5.35" fill="#44bf70"/>
<circle cx="190.7" cy="563.4" r="5.35" fill="#44bf70"/>
<circle cx="185.1" cy="563.8" r="5.35" fill="#44bf70"/>
<circle cx="185.5" cy="485.3" r="5.35" fill="#48c16e"/>
<circle cx="193.1" cy="560.2" r="5.35" fill="#48c16e"/>
<circle cx="195.5" cy="557.0" r="5.35" fill="#4ec36b"/>
<circle cx="203.5" cy="527.4" r="5.35" fill="#52c569"/>
<circle cx="186.0" cy="487.4" r="5.35" fill="#56c667"/>
<circle cx="201.5" cy="530.2" r="5.35" fill="#58c765"/>
<circle cx="181.9" cy="561.0" r="5.35" fill="#58c765"/>
<circle cx="187.5" cy="560.6" r="5.35" fill="#58c765"/>
<circle cx="190.2" cy="484.5" r="5.35" fill="#5ec962"/>
<circle cx="199.5" cy="533.0" r="5.35" fill="#5ec962"/>
<circle cx="189.9" cy="557.4" r="5.35" fill="#5ec962"/>
<circle cx="203.8" cy="523.5" r="5.35" fill="#60ca60"/>
<circle cx="178.5" cy="523.9" r="5.35" fill="#63cb5f"/>
<circle cx="178.7" cy="525.8" r="5.35" fill="#63cb5f"/>
<circle cx="197.9" cy="538.2" r="5.35" fill="#65cb5e"/>
<circle cx="190.8" cy="486.7" r="5.35" fill="#6ccd5a"/>
<circle cx="204.8" cy="496.9" r="5.35" fill="#6ece58"/>
<circle cx="204.1" cy="519.6" r="5.35" fill="#6ece58"/>
<circle cx="196.3" cy="543.4" r="5.35" fill="#6ece58"/>
<circle cx="178.7" cy="552.2" r="5.35" fill="#6ece58"/>
<circle cx="184.3" cy="557.8" r="5.35" fill="#6ece58"/>
<circle cx="181.5" cy="555.0" r="5.35" fill="#6ece58"/>
<circle cx="193.1" cy="552.2" r="5.35" fill="#70cf57"/>
<circle cx="191.4" cy="488.9" r="5.35" fill="#7ad151"/>
<circle cx="179.5" cy="537.8" r="5.35" fill="#7ad151"/>
<circle cx="191.4" cy="488.9" r="5.35" fill="#7ad151"/>
<circle cx="179.5" cy="537.8" r="5.35" fill="#7ad151"/>
<circle cx="204.8" cy="499.5" r="5.35" fill="#7ad151"/>
<circle cx="204.8" cy="502.4" r="5.35" fill="#7fd34e"/>
<circle cx="193.9" cy="533.0" r="5.35" fill="#81d34d"/>
<circle cx="178.5" cy="518.5" r="5.35" fill="#84d44b"/>
<circle cx="193.5" cy="545.4" r="5.35" fill="#84d44b"/>
<circle cx="204.8" cy="502.0" r="5.35" fill="#86d549"/>
<circle cx="204.8" cy="502.0" r="5.35" fill="#86d549"/>
<circle cx="191.9" cy="541.4" r="5.35" fill="#86d549"/>
<circle cx="204.8" cy="505.0" r="5.35" fill="#8bd646"/>
<circle cx="204.8" cy="507.9" r="5.35" fill="#8ed645"/>
<circle cx="204.8" cy="507.9" r="5.35" fill="#8ed645"/>
<circle cx="183.5" cy="538.6" r="5.35" fill="#8ed645"/>
<circle cx="183.9" cy="535.4" r="5.35" fill="#90d743"/>
<circle cx="179.2" cy="502.8" r="5.35" fill="#95d840"/>
<circle cx="179.2" cy="502.8" r="5.35" fill="#95d840"/>
<circle cx="190.7" cy="547.4" r="5.35" fill="#9bd93c"/>
<circle cx="190.7" cy="547.4" r="5.35" fill="#9bd93c"/>
<circle cx="191.1" cy="493.6" r="5.35" fill="#9bd93c"/>
<circle cx="178.9" cy="507.9" r="5.35" fill="#9dd93b"/>
<circle cx="189.1" cy="543.4" r="5.35" fill="#9dd93b"/>
<circle cx="187.5" cy="539.4" r="5.35" fill="#a2da37"/>
<circle cx="187.5" cy="539.4" r="5.35" fill="#a2da37"/>
<circle cx="182.2" cy="519.9" r="5.35" fill="#a5db36"/>
<circle cx="187.9" cy="536.2" r="5.35" fill="#a5db36"/>
<circle cx="178.5" cy="513.0" r="5.35" fill="#a8db34"/>
<circle cx="188.3" cy="533.0" r="5.35" fill="#a8db34"/>
<circle cx="178.5" cy="513.0" r="5.35" fill="#a8db34"/>
<circle cx="188.3" cy="533.0" r="5.35" fill="#a8db34"/>
<circle cx="182.5" cy="503.5" r="5.35" fill="#b0dd2f"/>
<circle cx="189.6" cy="528.8" r="5.35" fill="#b2dd2d"/>
<circle cx="189.5" cy="529.0" r="5.35" fill="#b2dd2d"/>
<circle cx="182.2" cy="508.6" r="5.35" fill="#bade28"/>
<circle cx="190.9" cy="498.4" r="5.35" fill="#bddf26"/>
<circle cx="190.9" cy="524.7" r="5.35" fill="#bddf26"/>
<circle cx="190.7" cy="525.0" r="5.35" fill="#bddf26"/>
<circle cx="190.9" cy="498.4" r="5.35" fill="#bddf26"/>
<circle cx="190.9" cy="524.7" r="5.35" fill="#bddf26"/>
<circle cx="190.7" cy="525.0" r="5.35" fill="#bddf26"/>
<circle cx="188.4" cy="501.3" r="5.35" fill="#c2df23"/>
<circle cx="182.2" cy="514.5" r="5.35" fill="#cae11f"/>
<circle cx="185.8" cy="504.2" r="5.35" fill="#cae11f"/>
<circle cx="185.8" cy="504.2" r="5.35" fill="#cae11f"/>
<circle cx="183.6" cy="512.3" r="5.35" fill="#d5e21a"/>
<circle cx="188.4" cy="520.3" r="5.35" fill="#d5e21a"/>
<circle cx="188.3" cy="520.5" r="5.35" fill="#d5e21a"/>
<circle cx="191.3" cy="502.0" r="5.35" fill="#d8e219"/>
<circle cx="188.7" cy="505.0" r="5.35" fill="#dfe318"/>
<circle cx="187.3" cy="507.9" r="5.35" fill="#e5e419"/>
<circle cx="185.8" cy="515.9" r="5.35" fill="#ece51b"/>
<circle cx="185.8" cy="515.9" r="5.35" fill="#ece51b"/>
<circle cx="191.7" cy="505.7" r="5.35" fill="#f1e51d"/>
<circle cx="191.7" cy="505.7" r="5.35" fill="#f1e51d"/>
<circle cx="187.3" cy="513.7" r="5.35" fill="#f6e620"/>
<circle cx="190.2" cy="508.6" r="5.35" fill="#f8e621"/>
<circle cx="188.7" cy="511.5" r="5.35" fill="#fde725"/>
<circle cx="188.7" cy="511.5" r="5.35" fill="#fde725"/>
</g>
<g stroke="#000" stroke-width="2.50" fill="none">
<path d="M80.05 629.90v10.40"/>
<path d="M204.55 629.90v10.40"/>
<path d="M70.50 438.30h-10.40"/>
<path d="M70.50 519.80h-10.40"/>
<path d="M70.50 601.20h-10.40"/>
</g>
<rect x="70.50" y="423.00" width="218.30" height="206.90" fill="none" stroke="#000" stroke-width="2.70"/>
<text class="l" transform="translate(80.05 671.80) scale(1 1.022)" text-anchor="middle">0.00</text>
<text class="l" transform="translate(204.55 671.80) scale(1 1.022)" text-anchor="middle">0.25</text>
<text class="l" transform="translate(48.50 448.90) scale(1 1.022)" text-anchor="end">5</text>
<text class="l" transform="translate(48.50 530.40) scale(1 1.022)" text-anchor="end">0</text>
<text class="l" transform="translate(48.50 611.80) scale(1 1.022)" text-anchor="end">-5</text>
<text class="l" transform="translate(179.65 710.80) scale(1 1.022)" text-anchor="middle">Ni</text>
<text class="t" transform="translate(176.65 403.40) scale(1 1.022)" text-anchor="middle">Corr = -0.124</text>
<g class="l" transform="translate(21.30 569.70) rotate(-90)"><text x="-0.4" y="0" font-size="30.4" style="stroke-width:.6px">ln</text><text transform="translate(27.6 0.8) scale(1.08 1)" font-size="33.5" style="stroke-width:0">(</text><text x="41.8" y="0" class="i">I</text><text transform="translate(55.4 5.2) scale(0.80 1)" class="i" font-size="21.8">corr</text><text transform="translate(85.0 0.8) scale(1.08 1)" font-size="33.5" style="stroke-width:0">)</text></g>
<rect x="312.40" y="423.00" width="10.25" height="206.90" fill="url(#vir)" stroke="#000" stroke-width="2.70"/>
<g stroke="#000" stroke-width="2.50" fill="none">
<path d="M322.65 423.00h11.00"/>
<path d="M322.65 526.45h11.00"/>
<path d="M322.65 629.90h11.00"/>
</g>
<text class="l" transform="translate(344.55 433.70) scale(1 1.022)">1.0</text>
<text class="l" transform="translate(344.55 537.15) scale(1 1.022)">0.5</text>
<text class="l" transform="translate(344.55 640.60) scale(1 1.022)">0.0</text>
<text class="l" transform="translate(308.20 402.40) scale(1 1.022)">Density</text>
</g>
<g id="p4">
<clipPath id="c4"><rect x="517.40" y="423.00" width="218.55" height="206.90"/></clipPath>
<g stroke="#b0b0b0" stroke-width="2.60" stroke-opacity=".42" stroke-dasharray="8.9 3.85" fill="none" clip-path="url(#c4)">
<path d="M527.05 629.90V423.00"/>
<path d="M646.45 629.90V423.00"/>
<path d="M517.40 438.30H735.95"/>
<path d="M517.40 519.80H735.95"/>
<path d="M517.40 601.20H735.95"/>
</g>
<g class="pt" clip-path="url(#c4)">
<circle cx="726.1" cy="575.9" r="5.35" fill="#460b5e"/>
<circle cx="659.6" cy="620.6" r="5.35" fill="#460b5e"/>
<circle cx="689.2" cy="617.6" r="5.35" fill="#460b5e"/>
<circle cx="676.2" cy="462.6" r="5.35" fill="#471063"/>
<circle cx="556.9" cy="473.6" r="5.35" fill="#471063"/>
<circle cx="674.4" cy="465.5" r="5.35" fill="#471365"/>
<circle cx="527.1" cy="520.3" r="5.35" fill="#481769"/>
<circle cx="527.1" cy="486.0" r="5.35" fill="#481a6c"/>
<circle cx="557.2" cy="500.6" r="5.35" fill="#481d6f"/>
<circle cx="556.6" cy="505.7" r="5.35" fill="#481d6f"/>
<circle cx="586.0" cy="561.8" r="5.35" fill="#481d6f"/>
<circle cx="586.0" cy="564.2" r="5.35" fill="#481d6f"/>
<circle cx="527.1" cy="496.9" r="5.35" fill="#482173"/>
<circle cx="527.1" cy="507.9" r="5.35" fill="#482173"/>
<circle cx="542.6" cy="508.3" r="5.35" fill="#482173"/>
<circle cx="676.9" cy="481.9" r="5.35" fill="#482475"/>
<circle cx="576.0" cy="542.6" r="5.35" fill="#472e7c"/>
<circle cx="570.4" cy="549.8" r="5.35" fill="#472e7c"/>
<circle cx="596.5" cy="555.7" r="5.35" fill="#472e7c"/>
<circle cx="687.0" cy="576.2" r="5.35" fill="#463480"/>
<circle cx="600.5" cy="530.9" r="5.35" fill="#433e85"/>
<circle cx="624.8" cy="432.0" r="5.35" fill="#414487"/>
<circle cx="595.3" cy="486.7" r="5.35" fill="#414487"/>
<circle cx="571.5" cy="496.9" r="5.35" fill="#414487"/>
<circle cx="627.0" cy="568.6" r="5.35" fill="#414487"/>
<circle cx="647.0" cy="587.0" r="5.35" fill="#3e4989"/>
<circle cx="587.6" cy="498.4" r="5.35" fill="#3b528b"/>
<circle cx="583.2" cy="502.0" r="5.35" fill="#3b528b"/>
<circle cx="581.0" cy="505.7" r="5.35" fill="#3a548c"/>
<circle cx="677.4" cy="575.9" r="5.35" fill="#38588c"/>
<circle cx="587.6" cy="505.7" r="5.35" fill="#375a8c"/>
<circle cx="620.9" cy="549.0" r="5.35" fill="#375a8c"/>
<circle cx="603.3" cy="504.2" r="5.35" fill="#32648e"/>
<circle cx="604.3" cy="507.2" r="5.35" fill="#32648e"/>
<circle cx="627.0" cy="561.8" r="5.35" fill="#31678e"/>
<circle cx="603.2" cy="513.3" r="5.35" fill="#306a8e"/>
<circle cx="627.0" cy="440.4" r="5.35" fill="#2e6f8e"/>
<circle cx="644.5" cy="449.5" r="5.35" fill="#2e6f8e"/>
<circle cx="611.9" cy="488.2" r="5.35" fill="#2e6f8e"/>
<circle cx="675.9" cy="525.4" r="5.35" fill="#2e6f8e"/>
<circle cx="675.3" cy="527.4" r="5.35" fill="#2d718e"/>
<circle cx="647.4" cy="453.9" r="5.35" fill="#2c738e"/>
<circle cx="613.8" cy="459.0" r="5.35" fill="#2c738e"/>
<circle cx="659.5" cy="484.5" r="5.35" fill="#2c738e"/>
<circle cx="659.1" cy="489.6" r="5.35" fill="#2c738e"/>
<circle cx="646.5" cy="576.7" r="5.35" fill="#2c738e"/>
<circle cx="674.5" cy="533.0" r="5.35" fill="#2c738e"/>
<circle cx="625.5" cy="445.1" r="5.35" fill="#2a788e"/>
<circle cx="614.6" cy="452.4" r="5.35" fill="#2a788e"/>
<circle cx="666.0" cy="577.4" r="5.35" fill="#2a788e"/>
<circle cx="677.4" cy="538.6" r="5.35" fill="#2a788e"/>
<circle cx="618.2" cy="480.4" r="5.35" fill="#27808e"/>
<circle cx="617.8" cy="519.1" r="5.35" fill="#27808e"/>
<circle cx="625.2" cy="450.2" r="5.35" fill="#25848e"/>
<circle cx="635.7" cy="445.8" r="5.35" fill="#25848e"/>
<circle cx="648.2" cy="463.3" r="5.35" fill="#25848e"/>
<circle cx="619.7" cy="459.7" r="5.35" fill="#25848e"/>
<circle cx="618.2" cy="467.7" r="5.35" fill="#25848e"/>
<circle cx="675.0" cy="555.9" r="5.35" fill="#25848e"/>
<circle cx="675.0" cy="564.7" r="5.35" fill="#25848e"/>
<circle cx="618.9" cy="463.7" r="5.35" fill="#25848e"/>
<circle cx="675.0" cy="560.3" r="5.35" fill="#25848e"/>
<circle cx="659.8" cy="498.4" r="5.35" fill="#24868e"/>
<circle cx="627.3" cy="543.4" r="5.35" fill="#24868e"/>
<circle cx="635.9" cy="448.4" r="5.35" fill="#23888e"/>
<circle cx="621.5" cy="470.3" r="5.35" fill="#238a8d"/>
<circle cx="636.0" cy="450.9" r="5.35" fill="#228b8d"/>
<circle cx="624.1" cy="460.4" r="5.35" fill="#228b8d"/>
<circle cx="623.3" cy="462.3" r="5.35" fill="#228d8d"/>
<circle cx="624.8" cy="472.8" r="5.35" fill="#21918c"/>
<circle cx="646.7" cy="472.8" r="5.35" fill="#21918c"/>
<circle cx="646.4" cy="481.6" r="5.35" fill="#21918c"/>
<circle cx="636.3" cy="453.9" r="5.35" fill="#21918c"/>
<circle cx="625.5" cy="462.6" r="5.35" fill="#21918c"/>
<circle cx="646.5" cy="477.2" r="5.35" fill="#21918c"/>
<circle cx="660.2" cy="502.4" r="5.35" fill="#21918c"/>
<circle cx="625.9" cy="468.8" r="5.35" fill="#20928c"/>
<circle cx="631.7" cy="543.6" r="5.35" fill="#20938c"/>
<circle cx="636.5" cy="456.8" r="5.35" fill="#1f958b"/>
<circle cx="627.0" cy="464.8" r="5.35" fill="#1f958b"/>
<circle cx="637.2" cy="460.4" r="5.35" fill="#1f968b"/>
<circle cx="637.9" cy="464.1" r="5.35" fill="#1f978b"/>
<circle cx="660.6" cy="506.4" r="5.35" fill="#1f9a8a"/>
<circle cx="661.3" cy="509.3" r="5.35" fill="#1f9f88"/>
<circle cx="633.5" cy="485.7" r="5.35" fill="#1fa188"/>
<circle cx="636.1" cy="543.7" r="5.35" fill="#1fa188"/>
<circle cx="645.7" cy="564.2" r="5.35" fill="#1fa188"/>
<circle cx="662.0" cy="512.3" r="5.35" fill="#20a386"/>
<circle cx="646.3" cy="491.5" r="5.35" fill="#22a884"/>
<circle cx="628.4" cy="493.3" r="5.35" fill="#22a884"/>
<circle cx="625.5" cy="497.7" r="5.35" fill="#22a884"/>
<circle cx="622.6" cy="508.6" r="5.35" fill="#22a884"/>
<circle cx="624.8" cy="514.5" r="5.35" fill="#22a884"/>
<circle cx="626.2" cy="520.3" r="5.35" fill="#22a884"/>
<circle cx="666.5" cy="542.6" r="5.35" fill="#22a884"/>
<circle cx="663.8" cy="556.2" r="5.35" fill="#22a884"/>
<circle cx="659.3" cy="563.4" r="5.35" fill="#22a884"/>
<circle cx="664.9" cy="565.0" r="5.35" fill="#22a884"/>
<circle cx="627.0" cy="495.5" r="5.35" fill="#22a884"/>
<circle cx="624.1" cy="503.1" r="5.35" fill="#22a884"/>
<circle cx="623.7" cy="511.5" r="5.35" fill="#22a884"/>
<circle cx="625.5" cy="517.4" r="5.35" fill="#22a884"/>
<circle cx="661.5" cy="559.8" r="5.35" fill="#22a884"/>
<circle cx="664.3" cy="560.6" r="5.35" fill="#22a884"/>
<circle cx="662.1" cy="564.2" r="5.35" fill="#22a884"/>
<circle cx="629.2" cy="496.9" r="5.35" fill="#32b67a"/>
<circle cx="627.7" cy="499.1" r="5.35" fill="#32b67a"/>
<circle cx="626.2" cy="504.6" r="5.35" fill="#32b67a"/>
<circle cx="655.7" cy="561.4" r="5.35" fill="#35b779"/>
<circle cx="663.7" cy="545.0" r="5.35" fill="#3bbb75"/>
<circle cx="662.3" cy="551.8" r="5.35" fill="#3bbb75"/>
<circle cx="630.8" cy="522.7" r="5.35" fill="#44bf70"/>
<circle cx="630.3" cy="521.8" r="5.35" fill="#48c16e"/>
<circle cx="629.9" cy="500.6" r="5.35" fill="#4ec36b"/>
<circle cx="630.3" cy="514.8" r="5.35" fill="#50c46a"/>
<circle cx="631.0" cy="517.7" r="5.35" fill="#50c46a"/>
<circle cx="644.1" cy="551.4" r="5.35" fill="#52c569"/>
<circle cx="652.1" cy="559.4" r="5.35" fill="#52c569"/>
<circle cx="648.1" cy="555.4" r="5.35" fill="#52c569"/>
<circle cx="646.1" cy="497.2" r="5.35" fill="#56c667"/>
<circle cx="660.9" cy="541.8" r="5.35" fill="#56c667"/>
<circle cx="646.5" cy="553.8" r="5.35" fill="#58c765"/>
<circle cx="650.5" cy="557.8" r="5.35" fill="#58c765"/>
<circle cx="648.9" cy="556.2" r="5.35" fill="#5ec962"/>
<circle cx="660.1" cy="529.8" r="5.35" fill="#63cb5f"/>
<circle cx="660.9" cy="547.4" r="5.35" fill="#63cb5f"/>
<circle cx="659.6" cy="526.9" r="5.35" fill="#6ece58"/>
<circle cx="659.3" cy="527.4" r="5.35" fill="#6ece58"/>
<circle cx="659.1" cy="523.9" r="5.35" fill="#7ad151"/>
<circle cx="635.3" cy="525.0" r="5.35" fill="#7ad151"/>
<circle cx="658.5" cy="525.0" r="5.35" fill="#7ad151"/>
<circle cx="659.1" cy="523.9" r="5.35" fill="#7ad151"/>
<circle cx="635.3" cy="525.0" r="5.35" fill="#7ad151"/>
<circle cx="658.5" cy="525.0" r="5.35" fill="#7ad151"/>
<circle cx="658.1" cy="544.2" r="5.35" fill="#84d44b"/>
<circle cx="634.3" cy="523.2" r="5.35" fill="#86d549"/>
<circle cx="634.3" cy="523.2" r="5.35" fill="#86d549"/>
<circle cx="635.5" cy="520.1" r="5.35" fill="#8bd646"/>
<circle cx="656.9" cy="532.6" r="5.35" fill="#8ed645"/>
<circle cx="635.0" cy="519.2" r="5.35" fill="#90d743"/>
<circle cx="635.7" cy="515.2" r="5.35" fill="#9bd93c"/>
<circle cx="635.7" cy="515.2" r="5.35" fill="#9bd93c"/>
<circle cx="656.1" cy="530.2" r="5.35" fill="#9bd93c"/>
<circle cx="646.0" cy="502.8" r="5.35" fill="#a8db34"/>
<circle cx="655.3" cy="541.0" r="5.35" fill="#a8db34"/>
<circle cx="646.0" cy="502.8" r="5.35" fill="#a8db34"/>
<circle cx="655.3" cy="541.0" r="5.35" fill="#a8db34"/>
<circle cx="654.5" cy="538.2" r="5.35" fill="#b2dd2d"/>
<circle cx="650.9" cy="538.2" r="5.35" fill="#bade28"/>
<circle cx="640.5" cy="512.6" r="5.35" fill="#bddf26"/>
<circle cx="653.7" cy="535.4" r="5.35" fill="#bddf26"/>
<circle cx="653.7" cy="535.4" r="5.35" fill="#bddf26"/>
<circle cx="640.5" cy="524.6" r="5.35" fill="#bddf26"/>
<circle cx="645.6" cy="506.4" r="5.35" fill="#c2df23"/>
<circle cx="640.0" cy="523.7" r="5.35" fill="#c2df23"/>
<circle cx="650.1" cy="535.4" r="5.35" fill="#c2df23"/>
<circle cx="646.5" cy="535.4" r="5.35" fill="#cae11f"/>
<circle cx="646.5" cy="535.4" r="5.35" fill="#cae11f"/>
<circle cx="640.9" cy="515.6" r="5.35" fill="#cde11d"/>
<circle cx="645.2" cy="510.1" r="5.35" fill="#dfe318"/>
<circle cx="645.2" cy="510.1" r="5.35" fill="#dfe318"/>
<circle cx="646.1" cy="529.8" r="5.35" fill="#e5e419"/>
<circle cx="645.6" cy="513.0" r="5.35" fill="#efe51c"/>
<circle cx="646.0" cy="515.9" r="5.35" fill="#fde725"/>
<circle cx="646.7" cy="521.8" r="5.35" fill="#fde725"/>
<circle cx="645.7" cy="524.2" r="5.35" fill="#fde725"/>
<circle cx="646.0" cy="515.9" r="5.35" fill="#fde725"/>
<circle cx="646.7" cy="521.8" r="5.35" fill="#fde725"/>
<circle cx="645.7" cy="524.2" r="5.35" fill="#fde725"/>
<circle cx="646.3" cy="518.8" r="5.35" fill="#fde725"/>
<circle cx="645.8" cy="520.1" r="5.35" fill="#fde725"/>
</g>
<g stroke="#000" stroke-width="2.50" fill="none">
<path d="M527.05 629.90v10.40"/>
<path d="M646.45 629.90v10.40"/>
<path d="M517.40 438.30h-10.40"/>
<path d="M517.40 519.80h-10.40"/>
<path d="M517.40 601.20h-10.40"/>
</g>
<rect x="517.40" y="423.00" width="218.55" height="206.90" fill="none" stroke="#000" stroke-width="2.70"/>
<text class="l" transform="translate(527.05 671.80) scale(1 1.022)" text-anchor="middle">0.0</text>
<text class="l" transform="translate(646.45 671.80) scale(1 1.022)" text-anchor="middle">0.2</text>
<text class="l" transform="translate(495.40 448.90) scale(1 1.022)" text-anchor="end">5</text>
<text class="l" transform="translate(495.40 530.40) scale(1 1.022)" text-anchor="end">0</text>
<text class="l" transform="translate(495.40 611.80) scale(1 1.022)" text-anchor="end">-5</text>
<text class="l" transform="translate(626.67 710.80) scale(1 1.022)" text-anchor="middle">Cr</text>
<text class="t" transform="translate(623.67 403.40) scale(1 1.022)" text-anchor="middle">Corr = -0.387</text>
<g class="l" transform="translate(468.20 569.70) rotate(-90)"><text x="-0.4" y="0" font-size="30.4" style="stroke-width:.6px">ln</text><text transform="translate(27.6 0.8) scale(1.08 1)" font-size="33.5" style="stroke-width:0">(</text><text x="41.8" y="0" class="i">I</text><text transform="translate(55.4 5.2) scale(0.80 1)" class="i" font-size="21.8">corr</text><text transform="translate(85.0 0.8) scale(1.08 1)" font-size="33.5" style="stroke-width:0">)</text></g>
<rect x="759.30" y="423.00" width="10.30" height="206.90" fill="url(#vir)" stroke="#000" stroke-width="2.70"/>
<g stroke="#000" stroke-width="2.50" fill="none">
<path d="M769.60 423.00h11.00"/>
<path d="M769.60 526.45h11.00"/>
<path d="M769.60 629.90h11.00"/>
</g>
<text class="l" transform="translate(791.50 433.70) scale(1 1.022)">1.0</text>
<text class="l" transform="translate(791.50 537.15) scale(1 1.022)">0.5</text>
<text class="l" transform="translate(791.50 640.60) scale(1 1.022)">0.0</text>
<text class="l" transform="translate(755.10 402.40) scale(1 1.022)">Density</text>
</g>
<g id="p5">
<clipPath id="c5"><rect x="965.60" y="423.00" width="218.80" height="206.90"/></clipPath>
<g stroke="#b0b0b0" stroke-width="2.60" stroke-opacity=".42" stroke-dasharray="8.9 3.85" fill="none" clip-path="url(#c5)">
<path d="M975.35 629.90V423.00"/>
<path d="M1087.05 629.90V423.00"/>
<path d="M965.60 438.30H1184.40"/>
<path d="M965.60 519.80H1184.40"/>
<path d="M965.60 601.20H1184.40"/>
</g>
<g class="pt" clip-path="url(#c5)">
<circle cx="1174.3" cy="501.0" r="5.35" fill="#460b5e"/>
<circle cx="1025.3" cy="620.6" r="5.35" fill="#460b5e"/>
<circle cx="1112.2" cy="465.2" r="5.35" fill="#471063"/>
<circle cx="975.2" cy="617.6" r="5.35" fill="#471063"/>
<circle cx="1050.9" cy="432.0" r="5.35" fill="#482475"/>
<circle cx="1020.9" cy="472.4" r="5.35" fill="#482878"/>
<circle cx="1097.6" cy="486.0" r="5.35" fill="#472e7c"/>
<circle cx="1088.1" cy="470.6" r="5.35" fill="#463480"/>
<circle cx="1024.9" cy="498.4" r="5.35" fill="#463480"/>
<circle cx="1023.6" cy="541.5" r="5.35" fill="#463480"/>
<circle cx="1049.9" cy="440.7" r="5.35" fill="#453781"/>
<circle cx="1025.3" cy="524.7" r="5.35" fill="#453781"/>
<circle cx="1030.4" cy="525.0" r="5.35" fill="#443a83"/>
<circle cx="1051.6" cy="445.1" r="5.35" fill="#433e85"/>
<circle cx="1087.3" cy="530.9" r="5.35" fill="#433e85"/>
<circle cx="1057.5" cy="450.2" r="5.35" fill="#414487"/>
<circle cx="1057.5" cy="455.3" r="5.35" fill="#414487"/>
<circle cx="1080.5" cy="473.9" r="5.35" fill="#414487"/>
<circle cx="1058.2" cy="459.7" r="5.35" fill="#3c4f8a"/>
<circle cx="1038.5" cy="458.7" r="5.35" fill="#3c4f8a"/>
<circle cx="1042.9" cy="459.0" r="5.35" fill="#3c4f8a"/>
<circle cx="1048.9" cy="543.4" r="5.35" fill="#3c4f8a"/>
<circle cx="975.4" cy="445.8" r="5.35" fill="#38588c"/>
<circle cx="1066.9" cy="474.6" r="5.35" fill="#38588c"/>
<circle cx="1038.2" cy="488.5" r="5.35" fill="#38588c"/>
<circle cx="1088.1" cy="520.3" r="5.35" fill="#38588c"/>
<circle cx="1044.3" cy="480.6" r="5.35" fill="#375a8c"/>
<circle cx="1087.1" cy="496.9" r="5.35" fill="#375a8c"/>
<circle cx="1056.1" cy="543.7" r="5.35" fill="#375a8c"/>
<circle cx="1050.9" cy="459.7" r="5.35" fill="#355f8d"/>
<circle cx="1048.4" cy="465.5" r="5.35" fill="#355f8d"/>
<circle cx="975.4" cy="450.2" r="5.35" fill="#32648e"/>
<circle cx="1048.0" cy="493.0" r="5.35" fill="#31678e"/>
<circle cx="1050.2" cy="496.9" r="5.35" fill="#31678e"/>
<circle cx="975.8" cy="452.4" r="5.35" fill="#31688e"/>
<circle cx="1049.1" cy="499.1" r="5.35" fill="#306a8e"/>
<circle cx="1063.6" cy="538.6" r="5.35" fill="#306a8e"/>
<circle cx="975.4" cy="454.6" r="5.35" fill="#2f6c8e"/>
<circle cx="974.9" cy="457.9" r="5.35" fill="#2c728e"/>
<circle cx="1064.8" cy="485.7" r="5.35" fill="#2c738e"/>
<circle cx="1064.9" cy="535.1" r="5.35" fill="#2c738e"/>
<circle cx="975.4" cy="461.2" r="5.35" fill="#2a788e"/>
<circle cx="1065.8" cy="492.1" r="5.35" fill="#2a788e"/>
<circle cx="975.2" cy="587.0" r="5.35" fill="#2a788e"/>
<circle cx="975.8" cy="463.7" r="5.35" fill="#287c8e"/>
<circle cx="1048.4" cy="520.3" r="5.35" fill="#287d8e"/>
<circle cx="975.4" cy="466.3" r="5.35" fill="#27808e"/>
<circle cx="974.9" cy="469.2" r="5.35" fill="#26828e"/>
<circle cx="975.4" cy="472.1" r="5.35" fill="#25848e"/>
<circle cx="1076.1" cy="505.7" r="5.35" fill="#25848e"/>
<circle cx="1064.8" cy="502.8" r="5.35" fill="#23898e"/>
<circle cx="1060.1" cy="524.2" r="5.35" fill="#23898e"/>
<circle cx="1066.2" cy="507.2" r="5.35" fill="#228b8d"/>
<circle cx="1064.9" cy="525.0" r="5.35" fill="#228b8d"/>
<circle cx="975.8" cy="475.8" r="5.35" fill="#228d8d"/>
<circle cx="1064.0" cy="513.0" r="5.35" fill="#21918c"/>
<circle cx="1066.2" cy="517.4" r="5.35" fill="#21918c"/>
<circle cx="1064.8" cy="521.8" r="5.35" fill="#21918c"/>
<circle cx="1060.4" cy="523.9" r="5.35" fill="#21918c"/>
<circle cx="975.4" cy="479.4" r="5.35" fill="#1f958b"/>
<circle cx="974.9" cy="482.0" r="5.35" fill="#1e9c89"/>
<circle cx="975.6" cy="483.2" r="5.35" fill="#1fa088"/>
<circle cx="975.4" cy="484.5" r="5.35" fill="#20a386"/>
<circle cx="975.2" cy="485.6" r="5.35" fill="#22a785"/>
<circle cx="975.2" cy="577.0" r="5.35" fill="#22a884"/>
<circle cx="975.8" cy="486.7" r="5.35" fill="#25ac82"/>
<circle cx="976.1" cy="487.8" r="5.35" fill="#29af7f"/>
<circle cx="975.4" cy="488.9" r="5.35" fill="#2fb47c"/>
<circle cx="975.4" cy="575.2" r="5.35" fill="#34b679"/>
<circle cx="974.7" cy="490.2" r="5.35" fill="#3fbc73"/>
<circle cx="974.8" cy="573.4" r="5.35" fill="#50c46a"/>
<circle cx="974.9" cy="491.5" r="5.35" fill="#50c46a"/>
<circle cx="975.6" cy="492.7" r="5.35" fill="#65cb5e"/>
<circle cx="974.5" cy="571.6" r="5.35" fill="#73d056"/>
<circle cx="975.4" cy="494.0" r="5.35" fill="#7ad151"/>
<circle cx="975.2" cy="495.1" r="5.35" fill="#86d549"/>
<circle cx="975.8" cy="496.2" r="5.35" fill="#95d840"/>
<circle cx="975.2" cy="528.2" r="5.35" fill="#9bd93c"/>
<circle cx="975.2" cy="533.0" r="5.35" fill="#9bd93c"/>
<circle cx="975.2" cy="569.8" r="5.35" fill="#9bd93c"/>
<circle cx="975.7" cy="530.6" r="5.35" fill="#9bd93c"/>
<circle cx="975.0" cy="529.4" r="5.35" fill="#9bd93c"/>
<circle cx="975.9" cy="531.8" r="5.35" fill="#9bd93c"/>
<circle cx="975.4" cy="527.0" r="5.35" fill="#9dd93b"/>
<circle cx="974.5" cy="534.2" r="5.35" fill="#a0da39"/>
<circle cx="974.8" cy="525.8" r="5.35" fill="#a2da37"/>
<circle cx="976.1" cy="497.3" r="5.35" fill="#a2da37"/>
<circle cx="974.8" cy="535.4" r="5.35" fill="#a5db36"/>
<circle cx="974.5" cy="524.6" r="5.35" fill="#a5db36"/>
<circle cx="975.2" cy="523.4" r="5.35" fill="#a8db34"/>
<circle cx="975.4" cy="536.6" r="5.35" fill="#aadc32"/>
<circle cx="975.9" cy="522.6" r="5.35" fill="#addc30"/>
<circle cx="975.9" cy="568.6" r="5.35" fill="#b0dd2f"/>
<circle cx="975.4" cy="498.4" r="5.35" fill="#b0dd2f"/>
<circle cx="975.2" cy="537.8" r="5.35" fill="#b0dd2f"/>
<circle cx="975.7" cy="521.9" r="5.35" fill="#b2dd2d"/>
<circle cx="974.7" cy="499.5" r="5.35" fill="#b5de2b"/>
<circle cx="975.0" cy="539.0" r="5.35" fill="#b5de2b"/>
<circle cx="975.1" cy="521.1" r="5.35" fill="#b8de29"/>
<circle cx="975.4" cy="520.3" r="5.35" fill="#bddf26"/>
<circle cx="974.9" cy="500.6" r="5.35" fill="#bddf26"/>
<circle cx="975.7" cy="540.2" r="5.35" fill="#bddf26"/>
<circle cx="975.6" cy="519.2" r="5.35" fill="#c0df25"/>
<circle cx="975.7" cy="567.4" r="5.35" fill="#c2df23"/>
<circle cx="974.9" cy="518.1" r="5.35" fill="#c2df23"/>
<circle cx="975.6" cy="501.7" r="5.35" fill="#c2df23"/>
<circle cx="975.9" cy="541.4" r="5.35" fill="#c2df23"/>
<circle cx="974.7" cy="517.0" r="5.35" fill="#c8e020"/>
<circle cx="975.4" cy="502.8" r="5.35" fill="#cae11f"/>
<circle cx="975.4" cy="507.2" r="5.35" fill="#cae11f"/>
<circle cx="975.4" cy="511.5" r="5.35" fill="#cae11f"/>
<circle cx="975.4" cy="515.9" r="5.35" fill="#cae11f"/>
<circle cx="975.2" cy="542.6" r="5.35" fill="#cae11f"/>
<circle cx="975.8" cy="505.0" r="5.35" fill="#cae11f"/>
<circle cx="974.9" cy="509.3" r="5.35" fill="#cae11f"/>
<circle cx="975.8" cy="513.7" r="5.35" fill="#cae11f"/>
<circle cx="975.2" cy="503.9" r="5.35" fill="#cae11f"/>
<circle cx="976.1" cy="506.1" r="5.35" fill="#cae11f"/>
<circle cx="974.7" cy="508.2" r="5.35" fill="#cae11f"/>
<circle cx="975.6" cy="510.4" r="5.35" fill="#cae11f"/>
<circle cx="975.2" cy="512.6" r="5.35" fill="#cae11f"/>
<circle cx="976.1" cy="514.8" r="5.35" fill="#cae11f"/>
<circle cx="974.5" cy="543.8" r="5.35" fill="#d8e219"/>
<circle cx="975.0" cy="566.2" r="5.35" fill="#d8e219"/>
<circle cx="974.8" cy="545.0" r="5.35" fill="#e5e419"/>
<circle cx="975.2" cy="565.0" r="5.35" fill="#ece51b"/>
<circle cx="975.4" cy="563.8" r="5.35" fill="#f1e51d"/>
<circle cx="975.4" cy="546.2" r="5.35" fill="#f1e51d"/>
<circle cx="974.8" cy="562.6" r="5.35" fill="#f6e620"/>
<circle cx="974.5" cy="561.4" r="5.35" fill="#fbe723"/>
<circle cx="975.2" cy="547.4" r="5.35" fill="#fde725"/>
<circle cx="975.2" cy="551.4" r="5.35" fill="#fde725"/>
<circle cx="975.2" cy="555.4" r="5.35" fill="#fde725"/>
<circle cx="975.2" cy="560.2" r="5.35" fill="#fde725"/>
<circle cx="975.7" cy="549.4" r="5.35" fill="#fde725"/>
<circle cx="974.8" cy="553.4" r="5.35" fill="#fde725"/>
<circle cx="975.7" cy="557.8" r="5.35" fill="#fde725"/>
<circle cx="975.0" cy="548.4" r="5.35" fill="#fde725"/>
<circle cx="975.9" cy="550.4" r="5.35" fill="#fde725"/>
<circle cx="974.5" cy="552.4" r="5.35" fill="#fde725"/>
<circle cx="975.4" cy="554.4" r="5.35" fill="#fde725"/>
<circle cx="975.0" cy="556.6" r="5.35" fill="#fde725"/>
<circle cx="975.9" cy="559.0" r="5.35" fill="#fde725"/>
</g>
<g stroke="#000" stroke-width="2.50" fill="none">
<path d="M975.35 629.90v10.40"/>
<path d="M1087.05 629.90v10.40"/>
<path d="M965.60 438.30h-10.40"/>
<path d="M965.60 519.80h-10.40"/>
<path d="M965.60 601.20h-10.40"/>
</g>
<rect x="965.60" y="423.00" width="218.80" height="206.90" fill="none" stroke="#000" stroke-width="2.70"/>
<text class="l" transform="translate(975.35 671.80) scale(1 1.022)" text-anchor="middle">0.00</text>
<text class="l" transform="translate(1087.05 671.80) scale(1 1.022)" text-anchor="middle">0.25</text>
<text class="l" transform="translate(943.60 448.90) scale(1 1.022)" text-anchor="end">5</text>
<text class="l" transform="translate(943.60 530.40) scale(1 1.022)" text-anchor="end">0</text>
<text class="l" transform="translate(943.60 611.80) scale(1 1.022)" text-anchor="end">-5</text>
<text class="l" transform="translate(1075.00 710.80) scale(1 1.022)" text-anchor="middle">Cu</text>
<text class="t" transform="translate(1072.00 403.40) scale(1 1.022)" text-anchor="middle">Corr = 0.305</text>
<g class="l" transform="translate(916.40 569.70) rotate(-90)"><text x="-0.4" y="0" font-size="30.4" style="stroke-width:.6px">ln</text><text transform="translate(27.6 0.8) scale(1.08 1)" font-size="33.5" style="stroke-width:0">(</text><text x="41.8" y="0" class="i">I</text><text transform="translate(55.4 5.2) scale(0.80 1)" class="i" font-size="21.8">corr</text><text transform="translate(85.0 0.8) scale(1.08 1)" font-size="33.5" style="stroke-width:0">)</text></g>
<rect x="1206.15" y="423.00" width="10.35" height="206.90" fill="url(#vir)" stroke="#000" stroke-width="2.70"/>
<g stroke="#000" stroke-width="2.50" fill="none">
<path d="M1216.50 423.00h11.00"/>
<path d="M1216.50 526.45h11.00"/>
<path d="M1216.50 629.90h11.00"/>
</g>
<text class="l" transform="translate(1238.40 433.70) scale(1 1.022)">1.0</text>
<text class="l" transform="translate(1238.40 537.15) scale(1 1.022)">0.5</text>
<text class="l" transform="translate(1238.40 640.60) scale(1 1.022)">0.0</text>
<text class="l" transform="translate(1201.95 402.40) scale(1 1.022)">Density</text>
</g>
<g id="p6">
<clipPath id="c6"><rect x="1411.60" y="423.00" width="218.80" height="206.90"/></clipPath>
<g stroke="#b0b0b0" stroke-width="2.60" stroke-opacity=".42" stroke-dasharray="8.9 3.85" fill="none" clip-path="url(#c6)">
<path d="M1421.35 629.90V423.00"/>
<path d="M1542.40 629.90V423.00"/>
<path d="M1411.60 438.30H1630.40"/>
<path d="M1411.60 519.80H1630.40"/>
<path d="M1411.60 601.20H1630.40"/>
</g>
<g class="pt" clip-path="url(#c6)">
<circle cx="1567.4" cy="561.8" r="5.35" fill="#450457"/>
<circle cx="1421.2" cy="620.3" r="5.35" fill="#46085c"/>
<circle cx="1421.2" cy="617.1" r="5.35" fill="#460b5e"/>
<circle cx="1517.3" cy="564.6" r="5.35" fill="#460b5e"/>
<circle cx="1620.1" cy="563.8" r="5.35" fill="#471365"/>
<circle cx="1517.6" cy="554.6" r="5.35" fill="#481a6c"/>
<circle cx="1517.6" cy="551.4" r="5.35" fill="#481d6f"/>
<circle cx="1596.2" cy="542.6" r="5.35" fill="#482173"/>
<circle cx="1590.9" cy="549.5" r="5.35" fill="#482173"/>
<circle cx="1421.4" cy="432.0" r="5.35" fill="#482475"/>
<circle cx="1587.4" cy="555.9" r="5.35" fill="#482475"/>
<circle cx="1488.4" cy="452.8" r="5.35" fill="#482878"/>
<circle cx="1536.3" cy="473.3" r="5.35" fill="#482878"/>
<circle cx="1509.0" cy="446.1" r="5.35" fill="#472e7c"/>
<circle cx="1517.6" cy="449.8" r="5.35" fill="#472e7c"/>
<circle cx="1552.8" cy="504.2" r="5.35" fill="#46307e"/>
<circle cx="1518.5" cy="453.9" r="5.35" fill="#463480"/>
<circle cx="1490.0" cy="488.2" r="5.35" fill="#463480"/>
<circle cx="1502.0" cy="498.1" r="5.35" fill="#463480"/>
<circle cx="1542.9" cy="501.0" r="5.35" fill="#463480"/>
<circle cx="1421.4" cy="440.7" r="5.35" fill="#443a83"/>
<circle cx="1541.4" cy="496.6" r="5.35" fill="#443a83"/>
<circle cx="1544.0" cy="530.9" r="5.35" fill="#433e85"/>
<circle cx="1518.1" cy="538.9" r="5.35" fill="#433e85"/>
<circle cx="1528.0" cy="541.5" r="5.35" fill="#433e85"/>
<circle cx="1495.4" cy="480.4" r="5.35" fill="#414487"/>
<circle cx="1518.1" cy="523.2" r="5.35" fill="#414487"/>
<circle cx="1542.9" cy="507.9" r="5.35" fill="#414487"/>
<circle cx="1421.4" cy="445.1" r="5.35" fill="#3e4989"/>
<circle cx="1518.1" cy="527.4" r="5.35" fill="#3e4989"/>
<circle cx="1520.0" cy="481.2" r="5.35" fill="#3e4c8a"/>
<circle cx="1516.6" cy="513.0" r="5.35" fill="#3b528b"/>
<circle cx="1502.3" cy="460.1" r="5.35" fill="#3a548c"/>
<circle cx="1509.7" cy="459.3" r="5.35" fill="#3a548c"/>
<circle cx="1498.1" cy="468.0" r="5.35" fill="#3a548c"/>
<circle cx="1501.3" cy="473.6" r="5.35" fill="#3a548c"/>
<circle cx="1512.2" cy="463.3" r="5.35" fill="#38588c"/>
<circle cx="1517.3" cy="464.1" r="5.35" fill="#38588c"/>
<circle cx="1517.3" cy="467.0" r="5.35" fill="#38588c"/>
<circle cx="1421.2" cy="587.0" r="5.35" fill="#38588c"/>
<circle cx="1421.4" cy="450.2" r="5.35" fill="#375a8c"/>
<circle cx="1531.2" cy="505.4" r="5.35" fill="#375a8c"/>
<circle cx="1523.2" cy="502.8" r="5.35" fill="#355f8d"/>
<circle cx="1525.4" cy="505.7" r="5.35" fill="#355f8d"/>
<circle cx="1526.8" cy="513.7" r="5.35" fill="#355f8d"/>
<circle cx="1421.8" cy="452.8" r="5.35" fill="#355f8d"/>
<circle cx="1421.4" cy="455.3" r="5.35" fill="#32648e"/>
<circle cx="1420.9" cy="457.9" r="5.35" fill="#306a8e"/>
<circle cx="1421.4" cy="460.4" r="5.35" fill="#2e6f8e"/>
<circle cx="1421.8" cy="463.3" r="5.35" fill="#2c738e"/>
<circle cx="1421.4" cy="466.3" r="5.35" fill="#2a788e"/>
<circle cx="1420.9" cy="469.2" r="5.35" fill="#277e8e"/>
<circle cx="1421.4" cy="472.1" r="5.35" fill="#25848e"/>
<circle cx="1421.2" cy="577.0" r="5.35" fill="#25848e"/>
<circle cx="1421.8" cy="475.8" r="5.35" fill="#228d8d"/>
<circle cx="1420.8" cy="574.6" r="5.35" fill="#21918c"/>
<circle cx="1421.4" cy="479.4" r="5.35" fill="#1f958b"/>
<circle cx="1421.2" cy="572.2" r="5.35" fill="#1e9c89"/>
<circle cx="1420.9" cy="482.0" r="5.35" fill="#1f9f88"/>
<circle cx="1421.9" cy="571.0" r="5.35" fill="#1fa187"/>
<circle cx="1421.6" cy="483.2" r="5.35" fill="#20a386"/>
<circle cx="1421.7" cy="569.8" r="5.35" fill="#22a785"/>
<circle cx="1421.4" cy="484.5" r="5.35" fill="#22a884"/>
<circle cx="1421.0" cy="568.6" r="5.35" fill="#26ad81"/>
<circle cx="1421.2" cy="485.8" r="5.35" fill="#26ad81"/>
<circle cx="1421.2" cy="567.4" r="5.35" fill="#2cb17e"/>
<circle cx="1421.8" cy="487.1" r="5.35" fill="#2cb17e"/>
<circle cx="1421.4" cy="566.0" r="5.35" fill="#32b67a"/>
<circle cx="1422.1" cy="488.4" r="5.35" fill="#32b67a"/>
<circle cx="1420.8" cy="564.6" r="5.35" fill="#3bbb75"/>
<circle cx="1421.4" cy="489.6" r="5.35" fill="#3bbb75"/>
<circle cx="1420.5" cy="563.2" r="5.35" fill="#44bf70"/>
<circle cx="1420.7" cy="490.7" r="5.35" fill="#48c16e"/>
<circle cx="1421.2" cy="561.8" r="5.35" fill="#4ec36b"/>
<circle cx="1421.9" cy="560.4" r="5.35" fill="#54c568"/>
<circle cx="1420.9" cy="491.8" r="5.35" fill="#58c765"/>
<circle cx="1421.7" cy="559.0" r="5.35" fill="#5ac864"/>
<circle cx="1421.0" cy="557.6" r="5.35" fill="#60ca60"/>
<circle cx="1421.2" cy="556.2" r="5.35" fill="#69cd5b"/>
<circle cx="1421.6" cy="492.9" r="5.35" fill="#69cd5b"/>
<circle cx="1421.4" cy="554.8" r="5.35" fill="#6ece58"/>
<circle cx="1420.8" cy="553.4" r="5.35" fill="#70cf57"/>
<circle cx="1420.5" cy="552.0" r="5.35" fill="#75d054"/>
<circle cx="1421.4" cy="494.0" r="5.35" fill="#7ad151"/>
<circle cx="1421.2" cy="550.6" r="5.35" fill="#7ad151"/>
<circle cx="1421.9" cy="549.2" r="5.35" fill="#84d44b"/>
<circle cx="1421.7" cy="547.8" r="5.35" fill="#8bd646"/>
<circle cx="1421.2" cy="495.1" r="5.35" fill="#8bd646"/>
<circle cx="1421.0" cy="546.4" r="5.35" fill="#93d741"/>
<circle cx="1421.2" cy="545.0" r="5.35" fill="#9bd93c"/>
<circle cx="1421.8" cy="496.2" r="5.35" fill="#9bd93c"/>
<circle cx="1421.4" cy="543.6" r="5.35" fill="#a2da37"/>
<circle cx="1420.8" cy="542.2" r="5.35" fill="#addc30"/>
<circle cx="1422.1" cy="497.3" r="5.35" fill="#addc30"/>
<circle cx="1420.5" cy="540.8" r="5.35" fill="#b5de2b"/>
<circle cx="1421.4" cy="498.4" r="5.35" fill="#bddf26"/>
<circle cx="1421.2" cy="539.4" r="5.35" fill="#bddf26"/>
<circle cx="1421.9" cy="538.2" r="5.35" fill="#c2df23"/>
<circle cx="1421.7" cy="537.0" r="5.35" fill="#c8e020"/>
<circle cx="1421.0" cy="535.8" r="5.35" fill="#cde11d"/>
<circle cx="1420.7" cy="499.5" r="5.35" fill="#cde11d"/>
<circle cx="1421.2" cy="534.6" r="5.35" fill="#d2e21b"/>
<circle cx="1421.4" cy="533.4" r="5.35" fill="#d8e219"/>
<circle cx="1420.9" cy="500.6" r="5.35" fill="#dfe318"/>
<circle cx="1420.8" cy="532.2" r="5.35" fill="#dfe318"/>
<circle cx="1420.5" cy="531.0" r="5.35" fill="#e5e419"/>
<circle cx="1421.2" cy="529.8" r="5.35" fill="#ece51b"/>
<circle cx="1421.6" cy="501.7" r="5.35" fill="#efe51c"/>
<circle cx="1421.9" cy="528.6" r="5.35" fill="#f1e51d"/>
<circle cx="1421.7" cy="527.4" r="5.35" fill="#f6e620"/>
<circle cx="1421.0" cy="526.2" r="5.35" fill="#fbe723"/>
<circle cx="1421.4" cy="502.8" r="5.35" fill="#fde725"/>
<circle cx="1421.4" cy="507.2" r="5.35" fill="#fde725"/>
<circle cx="1421.4" cy="511.5" r="5.35" fill="#fde725"/>
<circle cx="1421.4" cy="515.9" r="5.35" fill="#fde725"/>
<circle cx="1421.4" cy="520.3" r="5.35" fill="#fde725"/>
<circle cx="1421.2" cy="521.0" r="5.35" fill="#fde725"/>
<circle cx="1421.2" cy="525.0" r="5.35" fill="#fde725"/>
<circle cx="1421.8" cy="505.0" r="5.35" fill="#fde725"/>
<circle cx="1420.9" cy="509.3" r="5.35" fill="#fde725"/>
<circle cx="1421.8" cy="513.7" r="5.35" fill="#fde725"/>
<circle cx="1420.9" cy="518.1" r="5.35" fill="#fde725"/>
<circle cx="1421.7" cy="520.6" r="5.35" fill="#fde725"/>
<circle cx="1420.8" cy="523.0" r="5.35" fill="#fde725"/>
<circle cx="1421.2" cy="503.9" r="5.35" fill="#fde725"/>
<circle cx="1422.1" cy="506.1" r="5.35" fill="#fde725"/>
<circle cx="1420.7" cy="508.2" r="5.35" fill="#fde725"/>
<circle cx="1421.6" cy="510.4" r="5.35" fill="#fde725"/>
<circle cx="1421.2" cy="512.6" r="5.35" fill="#fde725"/>
<circle cx="1422.1" cy="514.8" r="5.35" fill="#fde725"/>
<circle cx="1420.7" cy="517.0" r="5.35" fill="#fde725"/>
<circle cx="1421.6" cy="519.2" r="5.35" fill="#fde725"/>
<circle cx="1421.1" cy="520.5" r="5.35" fill="#fde725"/>
<circle cx="1421.9" cy="520.8" r="5.35" fill="#fde725"/>
<circle cx="1420.5" cy="522.0" r="5.35" fill="#fde725"/>
<circle cx="1421.4" cy="524.0" r="5.35" fill="#fde725"/>
</g>
<g stroke="#000" stroke-width="2.50" fill="none">
<path d="M1421.35 629.90v10.40"/>
<path d="M1542.40 629.90v10.40"/>
<path d="M1411.60 438.30h-10.40"/>
<path d="M1411.60 519.80h-10.40"/>
<path d="M1411.60 601.20h-10.40"/>
</g>
<rect x="1411.60" y="423.00" width="218.80" height="206.90" fill="none" stroke="#000" stroke-width="2.70"/>
<text class="l" transform="translate(1421.35 671.80) scale(1 1.022)" text-anchor="middle">0.00</text>
<text class="l" transform="translate(1542.40 671.80) scale(1 1.022)" text-anchor="middle">0.25</text>
<text class="l" transform="translate(1389.60 448.90) scale(1 1.022)" text-anchor="end">5</text>
<text class="l" transform="translate(1389.60 530.40) scale(1 1.022)" text-anchor="end">0</text>
<text class="l" transform="translate(1389.60 611.80) scale(1 1.022)" text-anchor="end">-5</text>
<text class="l" transform="translate(1521.00 710.80) scale(1 1.022)" text-anchor="middle">Mn</text>
<text class="t" transform="translate(1518.00 403.40) scale(1 1.022)" text-anchor="middle">Corr = 0.111</text>
<g class="l" transform="translate(1362.40 569.70) rotate(-90)"><text x="-0.4" y="0" font-size="30.4" style="stroke-width:.6px">ln</text><text transform="translate(27.6 0.8) scale(1.08 1)" font-size="33.5" style="stroke-width:0">(</text><text x="41.8" y="0" class="i">I</text><text transform="translate(55.4 5.2) scale(0.80 1)" class="i" font-size="21.8">corr</text><text transform="translate(85.0 0.8) scale(1.08 1)" font-size="33.5" style="stroke-width:0">)</text></g>
<rect x="1653.20" y="423.00" width="10.35" height="206.90" fill="url(#vir)" stroke="#000" stroke-width="2.70"/>
<g stroke="#000" stroke-width="2.50" fill="none">
<path d="M1663.55 423.00h11.00"/>
<path d="M1663.55 526.45h11.00"/>
<path d="M1663.55 629.90h11.00"/>
</g>
<text class="l" transform="translate(1685.45 433.70) scale(1 1.022)">1.0</text>
<text class="l" transform="translate(1685.45 537.15) scale(1 1.022)">0.5</text>
<text class="l" transform="translate(1685.45 640.60) scale(1 1.022)">0.0</text>
<text class="l" transform="translate(1649.00 402.40) scale(1 1.022)">Density</text>
</g>
</svg></body></html>
